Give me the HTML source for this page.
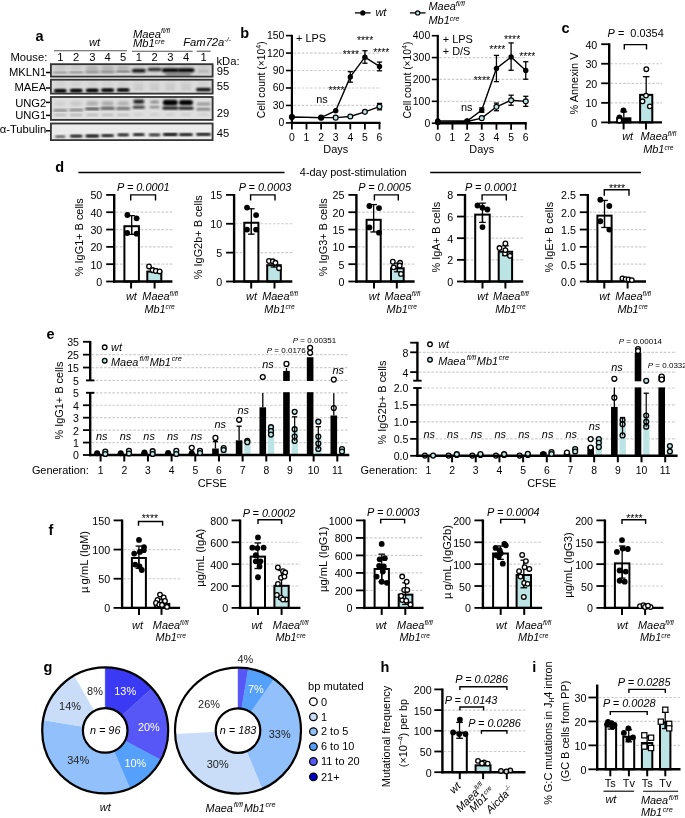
<!DOCTYPE html>
<html><head><meta charset="utf-8"><style>
html,body{margin:0;padding:0;background:#fff;width:685px;height:818px;overflow:hidden}
svg{display:block;will-change:transform}
text{font-family:"Liberation Sans",sans-serif}
</style></head><body>
<svg width="685" height="818" viewBox="0 0 685 818">
<rect width="685" height="818" fill="#fff"/>
<text x="35.5" y="41" font-size="14.5" text-anchor="start" fill="#000" font-weight="bold">a</text>
<text x="94.5" y="46.4" font-size="11.23" text-anchor="middle" fill="#000" font-style="italic">wt</text>
<line x1="54" y1="50.8" x2="127" y2="50.8" stroke="#555" stroke-width="1.1" stroke-linecap="butt"/>
<text x="133" y="37.6" font-size="11.23" text-anchor="start" fill="#000" font-style="italic">Maea<tspan font-size="7" dy="-4.2">fl/fl</tspan></text>
<text x="133" y="47.2" font-size="11.23" text-anchor="start" fill="#000" font-style="italic">Mb1<tspan font-size="7" dy="-3.6">cre</tspan></text>
<line x1="132" y1="51.2" x2="192.7" y2="51.2" stroke="#555" stroke-width="1.1" stroke-linecap="butt"/>
<text x="183.2" y="46.3" font-size="11.23" text-anchor="start" fill="#000" font-style="italic">Fam72a<tspan font-size="7" dy="-4.2">-/-</tspan></text>
<line x1="196.7" y1="51.2" x2="210.7" y2="51.2" stroke="#555" stroke-width="1.1" stroke-linecap="butt"/>
<text x="10.5" y="60.8" font-size="11.23" text-anchor="start" fill="#000">Mouse:</text>
<text x="60.3" y="60.7" font-size="11.23" text-anchor="middle" fill="#000">1</text>
<text x="76.2" y="60.7" font-size="11.23" text-anchor="middle" fill="#000">2</text>
<text x="92.3" y="60.7" font-size="11.23" text-anchor="middle" fill="#000">3</text>
<text x="107.6" y="60.7" font-size="11.23" text-anchor="middle" fill="#000">4</text>
<text x="123.2" y="60.7" font-size="11.23" text-anchor="middle" fill="#000">5</text>
<text x="138.8" y="60.7" font-size="11.23" text-anchor="middle" fill="#000">1</text>
<text x="154.6" y="60.7" font-size="11.23" text-anchor="middle" fill="#000">2</text>
<text x="170.3" y="60.7" font-size="11.23" text-anchor="middle" fill="#000">3</text>
<text x="186" y="60.7" font-size="11.23" text-anchor="middle" fill="#000">4</text>
<text x="203.5" y="60.7" font-size="11.23" text-anchor="middle" fill="#000">1</text>
<text x="216.5" y="64.7" font-size="11.23" text-anchor="start" fill="#000">kDa:</text>
<text x="216.8" y="75.3" font-size="11.23" text-anchor="start" fill="#000">95</text>
<text x="216.8" y="90.2" font-size="11.23" text-anchor="start" fill="#000">55</text>
<text x="216.8" y="117.2" font-size="11.23" text-anchor="start" fill="#000">29</text>
<text x="216.8" y="137.2" font-size="11.23" text-anchor="start" fill="#000">45</text>
<text x="46.3" y="75.8" font-size="11.23" text-anchor="end" fill="#000">MKLN1</text>
<line x1="46" y1="72.5" x2="50.5" y2="72.5" stroke="#000" stroke-width="1.5" stroke-linecap="butt"/>
<text x="46.3" y="91.4" font-size="11.23" text-anchor="end" fill="#000">MAEA</text>
<line x1="46" y1="88" x2="50.5" y2="88" stroke="#000" stroke-width="1.5" stroke-linecap="butt"/>
<text x="46.3" y="106.8" font-size="11.23" text-anchor="end" fill="#000">UNG2</text>
<line x1="46" y1="102.4" x2="50.5" y2="102.4" stroke="#000" stroke-width="1.5" stroke-linecap="butt"/>
<text x="46.3" y="118.5" font-size="11.23" text-anchor="end" fill="#000">UNG1</text>
<line x1="46" y1="115.4" x2="50.5" y2="115.4" stroke="#000" stroke-width="1.5" stroke-linecap="butt"/>
<text x="46.3" y="132.6" font-size="11.23" text-anchor="end" fill="#000">α-Tubulin</text>
<line x1="46" y1="130.8" x2="50.5" y2="130.8" stroke="#000" stroke-width="1.5" stroke-linecap="butt"/>
<defs><filter id="bl" x="-50%" y="-50%" width="200%" height="200%"><feGaussianBlur stdDeviation="0.9"/></filter><filter id="bl2" x="-50%" y="-50%" width="200%" height="200%"><feGaussianBlur stdDeviation="1.6"/></filter><clipPath id="cb1"><rect x="50.5" y="63.8" width="162.5" height="13.2"/></clipPath><clipPath id="cb2"><rect x="50.5" y="79.3" width="162.5" height="14.7"/></clipPath><clipPath id="cb3"><rect x="50.5" y="96.6" width="162.5" height="23.7"/></clipPath><clipPath id="cb4"><rect x="50.5" y="123.1" width="162.5" height="17.4"/></clipPath></defs>
<rect x="50" y="63.3" width="163.5" height="14.2" fill="#d6d6d6"/>
<rect x="50" y="78.8" width="163.5" height="15.7" fill="#dcdcdc"/>
<rect x="50" y="96.1" width="163.5" height="24.7" fill="#dfdfdf"/>
<rect x="50" y="122.6" width="163.5" height="18.4" fill="#ebebeb"/>
<g clip-path="url(#cb1)"><rect x="55.3" y="64" width="10" height="8" rx="3" fill="#c4c4c4" opacity="0.7" filter="url(#bl2)"/></g>
<g clip-path="url(#cb2)"><rect x="55.3" y="80.5" width="10" height="7" rx="3" fill="#cbcbcb" opacity="0.6" filter="url(#bl2)"/></g>
<g clip-path="url(#cb1)"><rect x="71.2" y="64" width="10" height="8" rx="3" fill="#c4c4c4" opacity="0.7" filter="url(#bl2)"/></g>
<g clip-path="url(#cb2)"><rect x="71.2" y="80.5" width="10" height="7" rx="3" fill="#cbcbcb" opacity="0.6" filter="url(#bl2)"/></g>
<g clip-path="url(#cb1)"><rect x="87.3" y="64" width="10" height="8" rx="3" fill="#c4c4c4" opacity="0.7" filter="url(#bl2)"/></g>
<g clip-path="url(#cb2)"><rect x="87.3" y="80.5" width="10" height="7" rx="3" fill="#cbcbcb" opacity="0.6" filter="url(#bl2)"/></g>
<g clip-path="url(#cb1)"><rect x="102.6" y="64" width="10" height="8" rx="3" fill="#c4c4c4" opacity="0.7" filter="url(#bl2)"/></g>
<g clip-path="url(#cb2)"><rect x="102.6" y="80.5" width="10" height="7" rx="3" fill="#cbcbcb" opacity="0.6" filter="url(#bl2)"/></g>
<g clip-path="url(#cb1)"><rect x="118.2" y="64" width="10" height="8" rx="3" fill="#c4c4c4" opacity="0.7" filter="url(#bl2)"/></g>
<g clip-path="url(#cb2)"><rect x="118.2" y="80.5" width="10" height="7" rx="3" fill="#cbcbcb" opacity="0.6" filter="url(#bl2)"/></g>
<g clip-path="url(#cb1)"><rect x="133.8" y="64" width="10" height="8" rx="3" fill="#c4c4c4" opacity="0.7" filter="url(#bl2)"/></g>
<g clip-path="url(#cb2)"><rect x="133.8" y="80.5" width="10" height="7" rx="3" fill="#cbcbcb" opacity="0.6" filter="url(#bl2)"/></g>
<g clip-path="url(#cb1)"><rect x="149.6" y="64" width="10" height="8" rx="3" fill="#c4c4c4" opacity="0.7" filter="url(#bl2)"/></g>
<g clip-path="url(#cb2)"><rect x="149.6" y="80.5" width="10" height="7" rx="3" fill="#cbcbcb" opacity="0.6" filter="url(#bl2)"/></g>
<g clip-path="url(#cb1)"><rect x="165.3" y="64" width="10" height="8" rx="3" fill="#c4c4c4" opacity="0.7" filter="url(#bl2)"/></g>
<g clip-path="url(#cb2)"><rect x="165.3" y="80.5" width="10" height="7" rx="3" fill="#cbcbcb" opacity="0.6" filter="url(#bl2)"/></g>
<g clip-path="url(#cb1)"><rect x="181" y="64" width="10" height="8" rx="3" fill="#c4c4c4" opacity="0.7" filter="url(#bl2)"/></g>
<g clip-path="url(#cb2)"><rect x="181" y="80.5" width="10" height="7" rx="3" fill="#cbcbcb" opacity="0.6" filter="url(#bl2)"/></g>
<g clip-path="url(#cb1)"><rect x="198.5" y="64" width="10" height="8" rx="3" fill="#c4c4c4" opacity="0.7" filter="url(#bl2)"/></g>
<g clip-path="url(#cb2)"><rect x="198.5" y="80.5" width="10" height="7" rx="3" fill="#cbcbcb" opacity="0.6" filter="url(#bl2)"/></g>
<g clip-path="url(#cb1)"><rect x="53.3" y="72.05" width="14" height="1.3" rx="0.65" fill="#333" opacity="0.6" filter="url(#bl)"/></g>
<g clip-path="url(#cb1)"><rect x="69.2" y="71.8" width="14" height="1.3" rx="0.65" fill="#333" opacity="0.68" filter="url(#bl)"/></g>
<g clip-path="url(#cb1)"><rect x="85.3" y="71.55" width="14" height="1.3" rx="0.65" fill="#333" opacity="0.76" filter="url(#bl)"/></g>
<g clip-path="url(#cb1)"><rect x="85.8" y="66.75" width="13" height="3.5" rx="1.75" fill="#888" opacity="0.45" filter="url(#bl2)"/></g>
<g clip-path="url(#cb1)"><rect x="100.6" y="71.3" width="14" height="1.3" rx="0.65" fill="#333" opacity="0.84" filter="url(#bl)"/></g>
<g clip-path="url(#cb1)"><rect x="101.1" y="66.75" width="13" height="3.5" rx="1.75" fill="#888" opacity="0.45" filter="url(#bl2)"/></g>
<g clip-path="url(#cb1)"><rect x="116.2" y="71.05" width="14" height="1.3" rx="0.65" fill="#333" opacity="0.92" filter="url(#bl)"/></g>
<g clip-path="url(#cb1)"><rect x="116.7" y="66.75" width="13" height="3.5" rx="1.75" fill="#888" opacity="0.45" filter="url(#bl2)"/></g>
<g clip-path="url(#cb1)"><rect x="131.8" y="69" width="14" height="3.4" rx="1.7" fill="#111" opacity="1" filter="url(#bl)"/></g>
<g clip-path="url(#cb1)"><rect x="147.6" y="68.1" width="14" height="3" rx="1.5" fill="#222" opacity="1" filter="url(#bl)"/></g>
<g clip-path="url(#cb1)"><rect x="161.8" y="68.3" width="17" height="4" rx="2" fill="#000" opacity="1" filter="url(#bl)"/></g>
<g clip-path="url(#cb1)"><rect x="177.5" y="68.3" width="17" height="4" rx="2" fill="#000" opacity="1" filter="url(#bl)"/></g>
<g clip-path="url(#cb1)"><rect x="165.15" y="73.35" width="26" height="2.5" rx="1.25" fill="#444" opacity="0.8" filter="url(#bl2)"/></g>
<g clip-path="url(#cb1)"><rect x="197.5" y="70.25" width="12" height="2.5" rx="1.25" fill="#999" opacity="0.5" filter="url(#bl)"/></g>
<g clip-path="url(#cb2)"><rect x="53.8" y="89.2" width="13" height="3.2" rx="1.6" fill="#000" opacity="1" filter="url(#bl)"/></g>
<g clip-path="url(#cb2)"><rect x="55.3" y="89.8" width="10" height="2" rx="1" fill="#000" opacity="0.8" filter="url(#bl)"/></g>
<g clip-path="url(#cb2)"><rect x="69.7" y="89" width="13" height="3.2" rx="1.6" fill="#000" opacity="1" filter="url(#bl)"/></g>
<g clip-path="url(#cb2)"><rect x="71.2" y="89.6" width="10" height="2" rx="1" fill="#000" opacity="0.8" filter="url(#bl)"/></g>
<g clip-path="url(#cb2)"><rect x="85.8" y="88.8" width="13" height="3.2" rx="1.6" fill="#000" opacity="1" filter="url(#bl)"/></g>
<g clip-path="url(#cb2)"><rect x="87.3" y="89.4" width="10" height="2" rx="1" fill="#000" opacity="0.8" filter="url(#bl)"/></g>
<g clip-path="url(#cb2)"><rect x="101.1" y="88.6" width="13" height="3.2" rx="1.6" fill="#000" opacity="1" filter="url(#bl)"/></g>
<g clip-path="url(#cb2)"><rect x="102.6" y="89.2" width="10" height="2" rx="1" fill="#000" opacity="0.8" filter="url(#bl)"/></g>
<g clip-path="url(#cb2)"><rect x="116.7" y="88.4" width="13" height="3.2" rx="1.6" fill="#000" opacity="1" filter="url(#bl)"/></g>
<g clip-path="url(#cb2)"><rect x="118.2" y="89" width="10" height="2" rx="1" fill="#000" opacity="0.8" filter="url(#bl)"/></g>
<g clip-path="url(#cb2)"><rect x="133.8" y="88.2" width="10" height="1.6" rx="0.8" fill="#999" opacity="0.5" filter="url(#bl)"/></g>
<g clip-path="url(#cb2)"><rect x="133.8" y="85.3" width="10" height="1.4" rx="0.7" fill="#aaa" opacity="0.4" filter="url(#bl)"/></g>
<g clip-path="url(#cb2)"><rect x="149.6" y="88.2" width="10" height="1.6" rx="0.8" fill="#999" opacity="0.5" filter="url(#bl)"/></g>
<g clip-path="url(#cb2)"><rect x="149.6" y="85.3" width="10" height="1.4" rx="0.7" fill="#aaa" opacity="0.4" filter="url(#bl)"/></g>
<g clip-path="url(#cb2)"><rect x="165.3" y="88.2" width="10" height="1.6" rx="0.8" fill="#999" opacity="0.5" filter="url(#bl)"/></g>
<g clip-path="url(#cb2)"><rect x="165.3" y="85.3" width="10" height="1.4" rx="0.7" fill="#aaa" opacity="0.4" filter="url(#bl)"/></g>
<g clip-path="url(#cb2)"><rect x="181" y="88.2" width="10" height="1.6" rx="0.8" fill="#999" opacity="0.5" filter="url(#bl)"/></g>
<g clip-path="url(#cb2)"><rect x="181" y="85.3" width="10" height="1.4" rx="0.7" fill="#aaa" opacity="0.4" filter="url(#bl)"/></g>
<g clip-path="url(#cb2)"><rect x="196" y="87.9" width="15" height="3.4" rx="1.7" fill="#000" opacity="1" filter="url(#bl)"/></g>
<g clip-path="url(#cb3)"><rect x="54.3" y="101.6" width="12" height="4" rx="2" fill="#777" opacity="0.15" filter="url(#bl2)"/></g>
<g clip-path="url(#cb3)"><rect x="53.3" y="109.45" width="14" height="1.7" rx="0.85" fill="#111" opacity="0.6" filter="url(#bl)"/></g>
<g clip-path="url(#cb3)"><rect x="54.3" y="114.2" width="12" height="1.6" rx="0.8" fill="#666" opacity="0.45" filter="url(#bl)"/></g>
<g clip-path="url(#cb3)"><rect x="70.2" y="101.6" width="12" height="4" rx="2" fill="#777" opacity="0.25" filter="url(#bl2)"/></g>
<g clip-path="url(#cb3)"><rect x="69.2" y="109.15" width="14" height="1.7" rx="0.85" fill="#111" opacity="0.7" filter="url(#bl)"/></g>
<g clip-path="url(#cb3)"><rect x="70.2" y="114.2" width="12" height="1.6" rx="0.8" fill="#666" opacity="0.5" filter="url(#bl)"/></g>
<g clip-path="url(#cb3)"><rect x="86.3" y="101.6" width="12" height="4" rx="2" fill="#777" opacity="0.55" filter="url(#bl2)"/></g>
<g clip-path="url(#cb3)"><rect x="85.3" y="107.95" width="14" height="1.7" rx="0.85" fill="#111" opacity="1" filter="url(#bl)"/></g>
<g clip-path="url(#cb3)"><rect x="86.3" y="114.2" width="12" height="1.6" rx="0.8" fill="#666" opacity="0.45" filter="url(#bl)"/></g>
<g clip-path="url(#cb3)"><rect x="101.6" y="101.6" width="12" height="4" rx="2" fill="#777" opacity="0.6" filter="url(#bl2)"/></g>
<g clip-path="url(#cb3)"><rect x="100.6" y="107.55" width="14" height="1.7" rx="0.85" fill="#111" opacity="1" filter="url(#bl)"/></g>
<g clip-path="url(#cb3)"><rect x="101.6" y="114.2" width="12" height="1.6" rx="0.8" fill="#666" opacity="0.45" filter="url(#bl)"/></g>
<g clip-path="url(#cb3)"><rect x="117.2" y="101.6" width="12" height="4" rx="2" fill="#777" opacity="0.5" filter="url(#bl2)"/></g>
<g clip-path="url(#cb3)"><rect x="116.2" y="107.75" width="14" height="1.7" rx="0.85" fill="#111" opacity="0.85" filter="url(#bl)"/></g>
<g clip-path="url(#cb3)"><rect x="117.2" y="114.2" width="12" height="1.6" rx="0.8" fill="#666" opacity="0.4" filter="url(#bl)"/></g>
<g clip-path="url(#cb3)"><rect x="133.3" y="99.4" width="11" height="4.4" rx="2.2" fill="#111" opacity="0.9" filter="url(#bl)"/></g>
<g clip-path="url(#cb3)"><rect x="132.8" y="106.1" width="12" height="2.4" rx="1.2" fill="#111" opacity="0.9" filter="url(#bl)"/></g>
<g clip-path="url(#cb3)"><rect x="150.1" y="100.4" width="9" height="3.2" rx="1.6" fill="#555" opacity="0.6" filter="url(#bl)"/></g>
<g clip-path="url(#cb3)"><rect x="149.6" y="106.2" width="10" height="2" rx="1" fill="#333" opacity="0.6" filter="url(#bl)"/></g>
<g clip-path="url(#cb3)"><rect x="162.8" y="99.7" width="15" height="5.8" rx="2.9" fill="#000" opacity="1" filter="url(#bl)"/></g>
<g clip-path="url(#cb3)"><rect x="162.3" y="106.7" width="16" height="2.8" rx="1.4" fill="#000" opacity="1" filter="url(#bl)"/></g>
<g clip-path="url(#cb3)"><rect x="179" y="99.9" width="14" height="5.4" rx="2.7" fill="#000" opacity="1" filter="url(#bl)"/></g>
<g clip-path="url(#cb3)"><rect x="178.5" y="106.9" width="15" height="2.6" rx="1.3" fill="#000" opacity="1" filter="url(#bl)"/></g>
<g clip-path="url(#cb3)"><rect x="196.5" y="102.5" width="14" height="3" rx="1.5" fill="#777" opacity="0.7" filter="url(#bl)"/></g>
<g clip-path="url(#cb3)"><rect x="196.5" y="108.2" width="14" height="2" rx="1" fill="#444" opacity="0.8" filter="url(#bl)"/></g>
<g clip-path="url(#cb3)"><rect x="133.8" y="113.5" width="10" height="2" rx="1" fill="#aaa" opacity="0.4" filter="url(#bl)"/></g>
<g clip-path="url(#cb3)"><rect x="149.6" y="113.5" width="10" height="2" rx="1" fill="#aaa" opacity="0.4" filter="url(#bl)"/></g>
<g clip-path="url(#cb3)"><rect x="165.3" y="113.5" width="10" height="2" rx="1" fill="#aaa" opacity="0.4" filter="url(#bl)"/></g>
<g clip-path="url(#cb3)"><rect x="181" y="113.5" width="10" height="2" rx="1" fill="#aaa" opacity="0.4" filter="url(#bl)"/></g>
<g clip-path="url(#cb3)"><rect x="198.5" y="113.5" width="10" height="2" rx="1" fill="#aaa" opacity="0.4" filter="url(#bl)"/></g>
<g clip-path="url(#cb4)"><rect x="54.8" y="135.45" width="11" height="2.3" rx="1.15" fill="#000" opacity="0.55" filter="url(#bl)"/></g>
<g clip-path="url(#cb4)"><rect x="56.3" y="135.95" width="8" height="1.3" rx="0.65" fill="#000" opacity="0.44" filter="url(#bl)"/></g>
<g clip-path="url(#cb4)"><rect x="69.7" y="135.05" width="13" height="2.3" rx="1.15" fill="#000" opacity="0.9" filter="url(#bl)"/></g>
<g clip-path="url(#cb4)"><rect x="71.2" y="135.55" width="10" height="1.3" rx="0.65" fill="#000" opacity="0.72" filter="url(#bl)"/></g>
<g clip-path="url(#cb4)"><rect x="85.3" y="134.85" width="14" height="2.3" rx="1.15" fill="#000" opacity="0.95" filter="url(#bl)"/></g>
<g clip-path="url(#cb4)"><rect x="86.8" y="135.35" width="11" height="1.3" rx="0.65" fill="#000" opacity="0.76" filter="url(#bl)"/></g>
<g clip-path="url(#cb4)"><rect x="101.1" y="134.45" width="13" height="2.3" rx="1.15" fill="#000" opacity="0.95" filter="url(#bl)"/></g>
<g clip-path="url(#cb4)"><rect x="102.6" y="134.95" width="10" height="1.3" rx="0.65" fill="#000" opacity="0.76" filter="url(#bl)"/></g>
<g clip-path="url(#cb4)"><rect x="117.2" y="133.65" width="12" height="2.3" rx="1.15" fill="#000" opacity="0.9" filter="url(#bl)"/></g>
<g clip-path="url(#cb4)"><rect x="118.7" y="134.15" width="9" height="1.3" rx="0.65" fill="#000" opacity="0.72" filter="url(#bl)"/></g>
<g clip-path="url(#cb4)"><rect x="132.8" y="133.55" width="12" height="2.3" rx="1.15" fill="#000" opacity="0.95" filter="url(#bl)"/></g>
<g clip-path="url(#cb4)"><rect x="134.3" y="134.05" width="9" height="1.3" rx="0.65" fill="#000" opacity="0.76" filter="url(#bl)"/></g>
<g clip-path="url(#cb4)"><rect x="148.6" y="133.65" width="12" height="2.3" rx="1.15" fill="#000" opacity="0.8" filter="url(#bl)"/></g>
<g clip-path="url(#cb4)"><rect x="150.1" y="134.15" width="9" height="1.3" rx="0.65" fill="#000" opacity="0.64" filter="url(#bl)"/></g>
<g clip-path="url(#cb4)"><rect x="162.8" y="133.35" width="15" height="2.3" rx="1.15" fill="#000" opacity="1" filter="url(#bl)"/></g>
<g clip-path="url(#cb4)"><rect x="164.3" y="133.85" width="12" height="1.3" rx="0.65" fill="#000" opacity="0.8" filter="url(#bl)"/></g>
<g clip-path="url(#cb4)"><rect x="179" y="133.55" width="14" height="2.3" rx="1.15" fill="#000" opacity="1" filter="url(#bl)"/></g>
<g clip-path="url(#cb4)"><rect x="180.5" y="134.05" width="11" height="1.3" rx="0.65" fill="#000" opacity="0.8" filter="url(#bl)"/></g>
<g clip-path="url(#cb4)"><rect x="196" y="133.25" width="15" height="2.3" rx="1.15" fill="#000" opacity="1" filter="url(#bl)"/></g>
<g clip-path="url(#cb4)"><rect x="197.5" y="133.75" width="12" height="1.3" rx="0.65" fill="#000" opacity="0.8" filter="url(#bl)"/></g>
<rect x="50.9" y="64.2" width="161.7" height="12.4" fill="none" stroke="#353535" stroke-width="1.8"/>
<rect x="50.9" y="79.7" width="161.7" height="13.9" fill="none" stroke="#353535" stroke-width="1.8"/>
<rect x="50.9" y="97" width="161.7" height="22.9" fill="none" stroke="#353535" stroke-width="1.8"/>
<rect x="50.9" y="123.5" width="161.7" height="16.6" fill="none" stroke="#353535" stroke-width="1.8"/>
<text x="240.2" y="37.5" font-size="14.5" text-anchor="start" fill="#000" font-weight="bold">b</text>
<line x1="354.9" y1="12.9" x2="370.6" y2="12.9" stroke="#000" stroke-width="1.3" stroke-linecap="butt"/>
<circle cx="362.8" cy="12.9" r="2.6" fill="#000"/>
<text x="375.4" y="16.2" font-size="10.92" text-anchor="start" fill="#000" font-style="italic">wt</text>
<line x1="409.9" y1="12.9" x2="425.6" y2="12.9" stroke="#000" stroke-width="1.3" stroke-linecap="butt"/>
<circle cx="417.7" cy="12.9" r="2.1" fill="#bde4e4" stroke="#000" stroke-width="1.2"/>
<text x="428.5" y="9.6" font-size="10.92" text-anchor="start" fill="#000" font-style="italic">Maea<tspan font-size="7" dy="-4">fl/fl</tspan></text>
<text x="428.5" y="24.4" font-size="10.92" text-anchor="start" fill="#000" font-style="italic">Mb1<tspan font-size="7" dy="-3.6">cre</tspan></text>
<line x1="293.4" y1="105.44" x2="380.5" y2="105.44" stroke="#cdcdcd" stroke-width="1.2" stroke-linecap="butt" stroke-dasharray="2.6 1.55"/>
<line x1="293.4" y1="87.98" x2="380.5" y2="87.98" stroke="#cdcdcd" stroke-width="1.2" stroke-linecap="butt" stroke-dasharray="2.6 1.55"/>
<line x1="293.4" y1="70.52" x2="380.5" y2="70.52" stroke="#cdcdcd" stroke-width="1.2" stroke-linecap="butt" stroke-dasharray="2.6 1.55"/>
<line x1="293.4" y1="53.06" x2="380.5" y2="53.06" stroke="#cdcdcd" stroke-width="1.2" stroke-linecap="butt" stroke-dasharray="2.6 1.55"/>
<polyline points="291.9,117.08 321.1,117.66 335.7,117.66 350.3,116.5 364.9,111.84 379.5,106.6" fill="none" stroke="#000" stroke-width="1.4"/>
<polyline points="291.9,117.08 321.1,117.66 335.7,110.68 350.3,76.92 364.9,57.13 379.5,66.45" fill="none" stroke="#000" stroke-width="1.4"/>
<line x1="350.3" y1="71.68" x2="350.3" y2="82.16" stroke="#000" stroke-width="1.3" stroke-linecap="butt"/>
<line x1="347.7" y1="71.68" x2="352.9" y2="71.68" stroke="#000" stroke-width="1.3" stroke-linecap="butt"/>
<line x1="347.7" y1="82.16" x2="352.9" y2="82.16" stroke="#000" stroke-width="1.3" stroke-linecap="butt"/>
<line x1="364.9" y1="50.73" x2="364.9" y2="63.24" stroke="#000" stroke-width="1.3" stroke-linecap="butt"/>
<line x1="362.3" y1="50.73" x2="367.5" y2="50.73" stroke="#000" stroke-width="1.3" stroke-linecap="butt"/>
<line x1="362.3" y1="63.24" x2="367.5" y2="63.24" stroke="#000" stroke-width="1.3" stroke-linecap="butt"/>
<line x1="379.5" y1="62.08" x2="379.5" y2="70.81" stroke="#000" stroke-width="1.3" stroke-linecap="butt"/>
<line x1="376.9" y1="62.08" x2="382.1" y2="62.08" stroke="#000" stroke-width="1.3" stroke-linecap="butt"/>
<line x1="376.9" y1="70.81" x2="382.1" y2="70.81" stroke="#000" stroke-width="1.3" stroke-linecap="butt"/>
<line x1="379.5" y1="103.4" x2="379.5" y2="109.81" stroke="#000" stroke-width="1.3" stroke-linecap="butt"/>
<line x1="376.9" y1="103.4" x2="382.1" y2="103.4" stroke="#000" stroke-width="1.3" stroke-linecap="butt"/>
<line x1="376.9" y1="109.81" x2="382.1" y2="109.81" stroke="#000" stroke-width="1.3" stroke-linecap="butt"/>
<circle cx="291.9" cy="117.08" r="2.45" fill="#bde4e4" stroke="#000" stroke-width="1.2"/>
<circle cx="321.1" cy="117.66" r="2.45" fill="#bde4e4" stroke="#000" stroke-width="1.2"/>
<circle cx="335.7" cy="117.66" r="2.45" fill="#bde4e4" stroke="#000" stroke-width="1.2"/>
<circle cx="350.3" cy="116.5" r="2.45" fill="#bde4e4" stroke="#000" stroke-width="1.2"/>
<circle cx="364.9" cy="111.84" r="2.45" fill="#bde4e4" stroke="#000" stroke-width="1.2"/>
<circle cx="379.5" cy="106.6" r="2.45" fill="#bde4e4" stroke="#000" stroke-width="1.2"/>
<circle cx="291.9" cy="117.08" r="2.7" fill="#000"/>
<circle cx="321.1" cy="117.66" r="2.7" fill="#000"/>
<circle cx="335.7" cy="110.68" r="2.7" fill="#000"/>
<circle cx="350.3" cy="76.92" r="2.7" fill="#000"/>
<circle cx="364.9" cy="57.13" r="2.7" fill="#000"/>
<circle cx="379.5" cy="66.45" r="2.7" fill="#000"/>
<line x1="291.9" y1="34.8" x2="291.9" y2="124" stroke="#000" stroke-width="2.2" stroke-linecap="butt"/>
<line x1="285.9" y1="122.9" x2="291.9" y2="122.9" stroke="#000" stroke-width="1.6" stroke-linecap="butt"/>
<text x="284.3" y="126.4" font-size="10.4" text-anchor="end" fill="#000">0</text>
<line x1="285.9" y1="105.44" x2="291.9" y2="105.44" stroke="#000" stroke-width="1.6" stroke-linecap="butt"/>
<text x="284.3" y="108.94" font-size="10.4" text-anchor="end" fill="#000">30</text>
<line x1="285.9" y1="87.98" x2="291.9" y2="87.98" stroke="#000" stroke-width="1.6" stroke-linecap="butt"/>
<text x="284.3" y="91.48" font-size="10.4" text-anchor="end" fill="#000">60</text>
<line x1="285.9" y1="70.52" x2="291.9" y2="70.52" stroke="#000" stroke-width="1.6" stroke-linecap="butt"/>
<text x="284.3" y="74.02" font-size="10.4" text-anchor="end" fill="#000">90</text>
<line x1="285.9" y1="53.06" x2="291.9" y2="53.06" stroke="#000" stroke-width="1.6" stroke-linecap="butt"/>
<text x="284.3" y="56.56" font-size="10.4" text-anchor="end" fill="#000">120</text>
<line x1="285.9" y1="35.6" x2="291.9" y2="35.6" stroke="#000" stroke-width="1.6" stroke-linecap="butt"/>
<text x="284.3" y="39.1" font-size="10.4" text-anchor="end" fill="#000">150</text>
<line x1="290.8" y1="122.9" x2="380.5" y2="122.9" stroke="#000" stroke-width="2.4" stroke-linecap="butt"/>
<line x1="291.9" y1="122.9" x2="291.9" y2="129.4" stroke="#000" stroke-width="1.8" stroke-linecap="butt"/>
<text x="291.9" y="141" font-size="10.4" text-anchor="middle" fill="#000">0</text>
<line x1="306.5" y1="122.9" x2="306.5" y2="129.4" stroke="#000" stroke-width="1.8" stroke-linecap="butt"/>
<text x="306.5" y="141" font-size="10.4" text-anchor="middle" fill="#000">1</text>
<line x1="321.1" y1="122.9" x2="321.1" y2="129.4" stroke="#000" stroke-width="1.8" stroke-linecap="butt"/>
<text x="321.1" y="141" font-size="10.4" text-anchor="middle" fill="#000">2</text>
<line x1="335.7" y1="122.9" x2="335.7" y2="129.4" stroke="#000" stroke-width="1.8" stroke-linecap="butt"/>
<text x="335.7" y="141" font-size="10.4" text-anchor="middle" fill="#000">3</text>
<line x1="350.3" y1="122.9" x2="350.3" y2="129.4" stroke="#000" stroke-width="1.8" stroke-linecap="butt"/>
<text x="350.3" y="141" font-size="10.4" text-anchor="middle" fill="#000">4</text>
<line x1="364.9" y1="122.9" x2="364.9" y2="129.4" stroke="#000" stroke-width="1.8" stroke-linecap="butt"/>
<text x="364.9" y="141" font-size="10.4" text-anchor="middle" fill="#000">5</text>
<line x1="379.5" y1="122.9" x2="379.5" y2="129.4" stroke="#000" stroke-width="1.8" stroke-linecap="butt"/>
<text x="379.5" y="141" font-size="10.4" text-anchor="middle" fill="#000">6</text>
<text x="335.7" y="152.6" font-size="10.92" text-anchor="middle" fill="#000">Days</text>
<text x="265.3" y="79.85" font-size="10.3" text-anchor="middle" fill="#000" transform="rotate(-90 265.3 79.85)">Cell count (×10<tspan font-size="7" dy="-4">4</tspan><tspan dy="4">)</tspan></text>
<text x="296" y="42.4" font-size="10.92" text-anchor="start" fill="#000">+ LPS</text>
<text x="316.2" y="103.4" font-size="10.92" text-anchor="start" fill="#000">ns</text>
<text x="328.4" y="93.7" font-size="10.4" text-anchor="start" fill="#000">****</text>
<text x="342.8" y="58.4" font-size="10.4" text-anchor="start" fill="#000">****</text>
<text x="357" y="43.9" font-size="10.4" text-anchor="start" fill="#000">****</text>
<text x="373.2" y="55.8" font-size="10.4" text-anchor="start" fill="#000">****</text>
<line x1="439.3" y1="101.33" x2="526.76" y2="101.33" stroke="#cdcdcd" stroke-width="1.2" stroke-linecap="butt" stroke-dasharray="2.6 1.55"/>
<line x1="439.3" y1="79.45" x2="526.76" y2="79.45" stroke="#cdcdcd" stroke-width="1.2" stroke-linecap="butt" stroke-dasharray="2.6 1.55"/>
<line x1="439.3" y1="57.58" x2="526.76" y2="57.58" stroke="#cdcdcd" stroke-width="1.2" stroke-linecap="butt" stroke-dasharray="2.6 1.55"/>
<polyline points="437.8,122.33 467.12,121.45 481.78,118.17 496.44,106.79 511.1,100.23 525.76,101.33" fill="none" stroke="#000" stroke-width="1.4"/>
<polyline points="437.8,121.01 467.12,121.01 481.78,110.08 496.44,68.51 511.1,56.92 525.76,70.48" fill="none" stroke="#000" stroke-width="1.4"/>
<line x1="481.78" y1="107.89" x2="481.78" y2="112.26" stroke="#000" stroke-width="1.3" stroke-linecap="butt"/>
<line x1="479.18" y1="107.89" x2="484.38" y2="107.89" stroke="#000" stroke-width="1.3" stroke-linecap="butt"/>
<line x1="479.18" y1="112.26" x2="484.38" y2="112.26" stroke="#000" stroke-width="1.3" stroke-linecap="butt"/>
<line x1="496.44" y1="55.39" x2="496.44" y2="81.64" stroke="#000" stroke-width="1.3" stroke-linecap="butt"/>
<line x1="493.84" y1="55.39" x2="499.04" y2="55.39" stroke="#000" stroke-width="1.3" stroke-linecap="butt"/>
<line x1="493.84" y1="81.64" x2="499.04" y2="81.64" stroke="#000" stroke-width="1.3" stroke-linecap="butt"/>
<line x1="511.1" y1="42.92" x2="511.1" y2="70.26" stroke="#000" stroke-width="1.3" stroke-linecap="butt"/>
<line x1="508.5" y1="42.92" x2="513.7" y2="42.92" stroke="#000" stroke-width="1.3" stroke-linecap="butt"/>
<line x1="508.5" y1="70.26" x2="513.7" y2="70.26" stroke="#000" stroke-width="1.3" stroke-linecap="butt"/>
<line x1="525.76" y1="61.73" x2="525.76" y2="79.23" stroke="#000" stroke-width="1.3" stroke-linecap="butt"/>
<line x1="523.16" y1="61.73" x2="528.36" y2="61.73" stroke="#000" stroke-width="1.3" stroke-linecap="butt"/>
<line x1="523.16" y1="79.23" x2="528.36" y2="79.23" stroke="#000" stroke-width="1.3" stroke-linecap="butt"/>
<line x1="496.44" y1="103.08" x2="496.44" y2="110.73" stroke="#000" stroke-width="1.3" stroke-linecap="butt"/>
<line x1="493.84" y1="103.08" x2="499.04" y2="103.08" stroke="#000" stroke-width="1.3" stroke-linecap="butt"/>
<line x1="493.84" y1="110.73" x2="499.04" y2="110.73" stroke="#000" stroke-width="1.3" stroke-linecap="butt"/>
<line x1="511.1" y1="95.2" x2="511.1" y2="105.26" stroke="#000" stroke-width="1.3" stroke-linecap="butt"/>
<line x1="508.5" y1="95.2" x2="513.7" y2="95.2" stroke="#000" stroke-width="1.3" stroke-linecap="butt"/>
<line x1="508.5" y1="105.26" x2="513.7" y2="105.26" stroke="#000" stroke-width="1.3" stroke-linecap="butt"/>
<line x1="525.76" y1="96.29" x2="525.76" y2="106.36" stroke="#000" stroke-width="1.3" stroke-linecap="butt"/>
<line x1="523.16" y1="96.29" x2="528.36" y2="96.29" stroke="#000" stroke-width="1.3" stroke-linecap="butt"/>
<line x1="523.16" y1="106.36" x2="528.36" y2="106.36" stroke="#000" stroke-width="1.3" stroke-linecap="butt"/>
<circle cx="437.8" cy="122.33" r="2.45" fill="#bde4e4" stroke="#000" stroke-width="1.2"/>
<circle cx="467.12" cy="121.45" r="2.45" fill="#bde4e4" stroke="#000" stroke-width="1.2"/>
<circle cx="481.78" cy="118.17" r="2.45" fill="#bde4e4" stroke="#000" stroke-width="1.2"/>
<circle cx="496.44" cy="106.79" r="2.45" fill="#bde4e4" stroke="#000" stroke-width="1.2"/>
<circle cx="511.1" cy="100.23" r="2.45" fill="#bde4e4" stroke="#000" stroke-width="1.2"/>
<circle cx="525.76" cy="101.33" r="2.45" fill="#bde4e4" stroke="#000" stroke-width="1.2"/>
<circle cx="437.8" cy="121.01" r="2.7" fill="#000"/>
<circle cx="467.12" cy="121.01" r="2.7" fill="#000"/>
<circle cx="481.78" cy="110.08" r="2.7" fill="#000"/>
<circle cx="496.44" cy="68.51" r="2.7" fill="#000"/>
<circle cx="511.1" cy="56.92" r="2.7" fill="#000"/>
<circle cx="525.76" cy="70.48" r="2.7" fill="#000"/>
<line x1="437.8" y1="34.9" x2="437.8" y2="124.3" stroke="#000" stroke-width="2.2" stroke-linecap="butt"/>
<line x1="431.8" y1="123.2" x2="437.8" y2="123.2" stroke="#000" stroke-width="1.6" stroke-linecap="butt"/>
<text x="430.2" y="126.7" font-size="10.4" text-anchor="end" fill="#000">0</text>
<line x1="431.8" y1="101.33" x2="437.8" y2="101.33" stroke="#000" stroke-width="1.6" stroke-linecap="butt"/>
<text x="430.2" y="104.83" font-size="10.4" text-anchor="end" fill="#000">100</text>
<line x1="431.8" y1="79.45" x2="437.8" y2="79.45" stroke="#000" stroke-width="1.6" stroke-linecap="butt"/>
<text x="430.2" y="82.95" font-size="10.4" text-anchor="end" fill="#000">200</text>
<line x1="431.8" y1="57.58" x2="437.8" y2="57.58" stroke="#000" stroke-width="1.6" stroke-linecap="butt"/>
<text x="430.2" y="61.08" font-size="10.4" text-anchor="end" fill="#000">300</text>
<line x1="431.8" y1="35.7" x2="437.8" y2="35.7" stroke="#000" stroke-width="1.6" stroke-linecap="butt"/>
<text x="430.2" y="39.2" font-size="10.4" text-anchor="end" fill="#000">400</text>
<line x1="436.7" y1="123.2" x2="526.76" y2="123.2" stroke="#000" stroke-width="2.4" stroke-linecap="butt"/>
<line x1="437.8" y1="123.2" x2="437.8" y2="129.7" stroke="#000" stroke-width="1.8" stroke-linecap="butt"/>
<text x="437.8" y="141" font-size="10.4" text-anchor="middle" fill="#000">0</text>
<line x1="452.46" y1="123.2" x2="452.46" y2="129.7" stroke="#000" stroke-width="1.8" stroke-linecap="butt"/>
<text x="452.46" y="141" font-size="10.4" text-anchor="middle" fill="#000">1</text>
<line x1="467.12" y1="123.2" x2="467.12" y2="129.7" stroke="#000" stroke-width="1.8" stroke-linecap="butt"/>
<text x="467.12" y="141" font-size="10.4" text-anchor="middle" fill="#000">2</text>
<line x1="481.78" y1="123.2" x2="481.78" y2="129.7" stroke="#000" stroke-width="1.8" stroke-linecap="butt"/>
<text x="481.78" y="141" font-size="10.4" text-anchor="middle" fill="#000">3</text>
<line x1="496.44" y1="123.2" x2="496.44" y2="129.7" stroke="#000" stroke-width="1.8" stroke-linecap="butt"/>
<text x="496.44" y="141" font-size="10.4" text-anchor="middle" fill="#000">4</text>
<line x1="511.1" y1="123.2" x2="511.1" y2="129.7" stroke="#000" stroke-width="1.8" stroke-linecap="butt"/>
<text x="511.1" y="141" font-size="10.4" text-anchor="middle" fill="#000">5</text>
<line x1="525.76" y1="123.2" x2="525.76" y2="129.7" stroke="#000" stroke-width="1.8" stroke-linecap="butt"/>
<text x="525.76" y="141" font-size="10.4" text-anchor="middle" fill="#000">6</text>
<text x="481.78" y="152.6" font-size="10.92" text-anchor="middle" fill="#000">Days</text>
<text x="410.7" y="80.05" font-size="10.3" text-anchor="middle" fill="#000" transform="rotate(-90 410.7 80.05)">Cell count (×10<tspan font-size="7" dy="-4">4</tspan><tspan dy="4">)</tspan></text>
<text x="442.8" y="43.4" font-size="10.92" text-anchor="start" fill="#000">+ LPS</text>
<text x="442.8" y="55.2" font-size="10.92" text-anchor="start" fill="#000">+ D/S</text>
<text x="461" y="110.5" font-size="10.92" text-anchor="start" fill="#000">ns</text>
<text x="473.8" y="84.4" font-size="10.4" text-anchor="start" fill="#000">****</text>
<text x="489.2" y="52.9" font-size="10.4" text-anchor="start" fill="#000">****</text>
<text x="504" y="43" font-size="10.4" text-anchor="start" fill="#000">****</text>
<text x="519.2" y="59.9" font-size="10.4" text-anchor="start" fill="#000">****</text>
<text x="561.6" y="32.8" font-size="14.5" text-anchor="start" fill="#000" font-weight="bold">c</text>
<text x="607.6" y="37" font-size="10.92" text-anchor="start" fill="#000"><tspan font-style="italic">P</tspan> =&#160; 0.0354</text>
<line x1="610.7" y1="102.85" x2="662" y2="102.85" stroke="#cdcdcd" stroke-width="1.2" stroke-linecap="butt" stroke-dasharray="2.6 1.55"/>
<line x1="610.7" y1="83.3" x2="662" y2="83.3" stroke="#cdcdcd" stroke-width="1.2" stroke-linecap="butt" stroke-dasharray="2.6 1.55"/>
<line x1="610.7" y1="63.75" x2="662" y2="63.75" stroke="#cdcdcd" stroke-width="1.2" stroke-linecap="butt" stroke-dasharray="2.6 1.55"/>
<rect x="617.2" y="118.32" width="13.2" height="4.08" fill="#000" stroke="#000" stroke-width="2"/>
<rect x="640.1" y="94.86" width="12.2" height="27.54" fill="#bde4e4" stroke="#000" stroke-width="2"/>
<line x1="609.2" y1="43.3" x2="609.2" y2="123.6" stroke="#000" stroke-width="2.4" stroke-linecap="butt"/>
<line x1="601.2" y1="122.4" x2="609.2" y2="122.4" stroke="#000" stroke-width="1.8" stroke-linecap="butt"/>
<text x="597.3" y="126.9" font-size="10.71" text-anchor="end" fill="#000">0</text>
<line x1="601.2" y1="102.85" x2="609.2" y2="102.85" stroke="#000" stroke-width="1.8" stroke-linecap="butt"/>
<text x="597.3" y="107.35" font-size="10.71" text-anchor="end" fill="#000">10</text>
<line x1="601.2" y1="83.3" x2="609.2" y2="83.3" stroke="#000" stroke-width="1.8" stroke-linecap="butt"/>
<text x="597.3" y="87.8" font-size="10.71" text-anchor="end" fill="#000">20</text>
<line x1="601.2" y1="63.75" x2="609.2" y2="63.75" stroke="#000" stroke-width="1.8" stroke-linecap="butt"/>
<text x="597.3" y="68.25" font-size="10.71" text-anchor="end" fill="#000">30</text>
<line x1="601.2" y1="44.2" x2="609.2" y2="44.2" stroke="#000" stroke-width="1.8" stroke-linecap="butt"/>
<text x="597.3" y="48.7" font-size="10.71" text-anchor="end" fill="#000">40</text>
<line x1="608" y1="122.4" x2="662" y2="122.4" stroke="#000" stroke-width="2.4" stroke-linecap="butt"/>
<line x1="623.6" y1="122.4" x2="623.6" y2="129.4" stroke="#000" stroke-width="2" stroke-linecap="butt"/>
<line x1="646" y1="122.4" x2="646" y2="129.4" stroke="#000" stroke-width="2" stroke-linecap="butt"/>
<line x1="623.8" y1="111.84" x2="623.8" y2="117.32" stroke="#000" stroke-width="1.3" stroke-linecap="butt"/>
<line x1="620.4" y1="111.84" x2="627.2" y2="111.84" stroke="#000" stroke-width="1.3" stroke-linecap="butt"/>
<circle cx="623.5" cy="110.28" r="2.9" fill="#000"/>
<circle cx="619.4" cy="117.32" r="2.9" fill="#000"/>
<circle cx="619.4" cy="120.45" r="2.3" fill="#fff" stroke="#000" stroke-width="1.3"/>
<line x1="646.2" y1="76.65" x2="646.2" y2="93.86" stroke="#000" stroke-width="1.3" stroke-linecap="butt"/>
<line x1="642.9" y1="76.65" x2="649.5" y2="76.65" stroke="#000" stroke-width="1.3" stroke-linecap="butt"/>
<circle cx="646.3" cy="69.22" r="2.3" fill="#fff" stroke="#000" stroke-width="1.3"/>
<circle cx="646" cy="95.62" r="2.3" fill="#fff" stroke="#000" stroke-width="1.3"/>
<circle cx="642.5" cy="101.29" r="2.3" fill="#fff" stroke="#000" stroke-width="1.3"/>
<circle cx="649.8" cy="106.37" r="2.3" fill="#fff" stroke="#000" stroke-width="1.3"/>
<path d="M624.3 49.6V44.6H646.5V49.6" fill="none" stroke="#000" stroke-width="1.4"/>
<text x="577.8" y="83.5" font-size="10.92" text-anchor="middle" fill="#000" transform="rotate(-90 577.8 83.5)">% Annexin V</text>
<text x="627.7" y="139.8" font-size="10.92" text-anchor="middle" fill="#000" font-style="italic">wt</text>
<text x="640.5" y="140.2" font-size="10.92" text-anchor="start" fill="#000" font-style="italic">Maea<tspan font-size="6.5" dy="-4">fl/fl</tspan></text>
<text x="643.2" y="153" font-size="10.92" text-anchor="start" fill="#000" font-style="italic">Mb1<tspan font-size="6.5" dy="-3.5">cre</tspan></text>
<text x="55.3" y="172" font-size="14.5" text-anchor="start" fill="#000" font-weight="bold">d</text>
<line x1="78.4" y1="172.5" x2="284.6" y2="172.5" stroke="#000" stroke-width="1.3" stroke-linecap="butt"/>
<line x1="430.2" y1="172.5" x2="641" y2="172.5" stroke="#000" stroke-width="1.3" stroke-linecap="butt"/>
<text x="353.2" y="175.6" font-size="10.92" text-anchor="middle" fill="#000">4-day post-stimulation</text>
<line x1="115.7" y1="264.18" x2="172.4" y2="264.18" stroke="#cdcdcd" stroke-width="1.2" stroke-linecap="butt" stroke-dasharray="2.6 1.55"/>
<line x1="115.7" y1="246.86" x2="172.4" y2="246.86" stroke="#cdcdcd" stroke-width="1.2" stroke-linecap="butt" stroke-dasharray="2.6 1.55"/>
<line x1="115.7" y1="229.54" x2="172.4" y2="229.54" stroke="#cdcdcd" stroke-width="1.2" stroke-linecap="butt" stroke-dasharray="2.6 1.55"/>
<line x1="115.7" y1="212.22" x2="172.4" y2="212.22" stroke="#cdcdcd" stroke-width="1.2" stroke-linecap="butt" stroke-dasharray="2.6 1.55"/>
<rect x="124.4" y="226.21" width="14.5" height="55.29" fill="#fff" stroke="#000" stroke-width="2"/>
<rect x="147.3" y="271.59" width="14" height="9.91" fill="#bde4e4" stroke="#000" stroke-width="2"/>
<line x1="114.2" y1="194" x2="114.2" y2="282.7" stroke="#000" stroke-width="2.4" stroke-linecap="butt"/>
<line x1="106.2" y1="281.5" x2="114.2" y2="281.5" stroke="#000" stroke-width="1.8" stroke-linecap="butt"/>
<text x="102.3" y="286" font-size="10.71" text-anchor="end" fill="#000">0</text>
<line x1="106.2" y1="264.18" x2="114.2" y2="264.18" stroke="#000" stroke-width="1.8" stroke-linecap="butt"/>
<text x="102.3" y="268.68" font-size="10.71" text-anchor="end" fill="#000">10</text>
<line x1="106.2" y1="246.86" x2="114.2" y2="246.86" stroke="#000" stroke-width="1.8" stroke-linecap="butt"/>
<text x="102.3" y="251.36" font-size="10.71" text-anchor="end" fill="#000">20</text>
<line x1="106.2" y1="229.54" x2="114.2" y2="229.54" stroke="#000" stroke-width="1.8" stroke-linecap="butt"/>
<text x="102.3" y="234.04" font-size="10.71" text-anchor="end" fill="#000">30</text>
<line x1="106.2" y1="212.22" x2="114.2" y2="212.22" stroke="#000" stroke-width="1.8" stroke-linecap="butt"/>
<text x="102.3" y="216.72" font-size="10.71" text-anchor="end" fill="#000">40</text>
<line x1="106.2" y1="194.9" x2="114.2" y2="194.9" stroke="#000" stroke-width="1.8" stroke-linecap="butt"/>
<text x="102.3" y="199.4" font-size="10.71" text-anchor="end" fill="#000">50</text>
<line x1="113" y1="281.5" x2="172.4" y2="281.5" stroke="#000" stroke-width="2.4" stroke-linecap="butt"/>
<line x1="131.1" y1="281.5" x2="131.1" y2="288.5" stroke="#000" stroke-width="2" stroke-linecap="butt"/>
<line x1="154.6" y1="281.5" x2="154.6" y2="288.5" stroke="#000" stroke-width="2" stroke-linecap="butt"/>
<line x1="131.65" y1="215.68" x2="131.65" y2="234.39" stroke="#000" stroke-width="1.3" stroke-linecap="butt"/>
<line x1="128.35" y1="215.68" x2="134.95" y2="215.68" stroke="#000" stroke-width="1.3" stroke-linecap="butt"/>
<line x1="131.65" y1="225.21" x2="131.65" y2="234.39" stroke="#000" stroke-width="1.3" stroke-linecap="butt"/>
<line x1="128.35" y1="234.39" x2="134.95" y2="234.39" stroke="#000" stroke-width="1.3" stroke-linecap="butt"/>
<circle cx="127.4" cy="214.99" r="2.9" fill="#000"/>
<circle cx="136.6" cy="218.28" r="2.9" fill="#000"/>
<circle cx="127.2" cy="233" r="2.9" fill="#000"/>
<circle cx="136.6" cy="233.7" r="2.9" fill="#000"/>
<line x1="154.3" y1="268.68" x2="154.3" y2="272.49" stroke="#000" stroke-width="1.3" stroke-linecap="butt"/>
<line x1="151" y1="268.68" x2="157.6" y2="268.68" stroke="#000" stroke-width="1.3" stroke-linecap="butt"/>
<line x1="154.3" y1="270.59" x2="154.3" y2="272.49" stroke="#000" stroke-width="1.3" stroke-linecap="butt"/>
<line x1="151" y1="272.49" x2="157.6" y2="272.49" stroke="#000" stroke-width="1.3" stroke-linecap="butt"/>
<circle cx="149" cy="266.43" r="2.3" fill="#fff" stroke="#000" stroke-width="1.3"/>
<circle cx="152.6" cy="270.07" r="2.3" fill="#fff" stroke="#000" stroke-width="1.3"/>
<circle cx="155.8" cy="270.93" r="2.3" fill="#fff" stroke="#000" stroke-width="1.3"/>
<circle cx="159.6" cy="271.45" r="2.3" fill="#fff" stroke="#000" stroke-width="1.3"/>
<text x="117" y="191.2" font-size="10.92" text-anchor="start" fill="#000" font-style="italic">P = 0.0001</text>
<path d="M130.7 200.4V194.9H155.5V200.4" fill="none" stroke="#000" stroke-width="1.4"/>
<text x="83.3" y="237.2" font-size="10.92" text-anchor="middle" fill="#000" transform="rotate(-90 83.3 237.2)">% IgG1+ B cells</text>
<text x="131.4" y="300.1" font-size="10.92" text-anchor="middle" fill="#000" font-style="italic">wt</text>
<text x="142.3" y="300.1" font-size="10.92" text-anchor="start" fill="#000" font-style="italic">Maea<tspan font-size="6.6" dy="-4">fl/fl</tspan></text>
<text x="144.4" y="312.6" font-size="10.92" text-anchor="start" fill="#000" font-style="italic">Mb1<tspan font-size="6.6" dy="-3.5">cre</tspan></text>
<line x1="235.6" y1="252.63" x2="292.3" y2="252.63" stroke="#cdcdcd" stroke-width="1.2" stroke-linecap="butt" stroke-dasharray="2.6 1.55"/>
<line x1="235.6" y1="223.77" x2="292.3" y2="223.77" stroke="#cdcdcd" stroke-width="1.2" stroke-linecap="butt" stroke-dasharray="2.6 1.55"/>
<rect x="244.3" y="222.75" width="14.1" height="58.75" fill="#fff" stroke="#000" stroke-width="2"/>
<rect x="267.2" y="265.18" width="13.6" height="16.32" fill="#bde4e4" stroke="#000" stroke-width="2"/>
<line x1="234.1" y1="194" x2="234.1" y2="282.7" stroke="#000" stroke-width="2.4" stroke-linecap="butt"/>
<line x1="226.1" y1="281.5" x2="234.1" y2="281.5" stroke="#000" stroke-width="1.8" stroke-linecap="butt"/>
<text x="222.2" y="286" font-size="10.71" text-anchor="end" fill="#000">0</text>
<line x1="226.1" y1="252.63" x2="234.1" y2="252.63" stroke="#000" stroke-width="1.8" stroke-linecap="butt"/>
<text x="222.2" y="257.13" font-size="10.71" text-anchor="end" fill="#000">5</text>
<line x1="226.1" y1="223.77" x2="234.1" y2="223.77" stroke="#000" stroke-width="1.8" stroke-linecap="butt"/>
<text x="222.2" y="228.27" font-size="10.71" text-anchor="end" fill="#000">10</text>
<line x1="226.1" y1="194.9" x2="234.1" y2="194.9" stroke="#000" stroke-width="1.8" stroke-linecap="butt"/>
<text x="222.2" y="199.4" font-size="10.71" text-anchor="end" fill="#000">15</text>
<line x1="232.9" y1="281.5" x2="292.3" y2="281.5" stroke="#000" stroke-width="2.4" stroke-linecap="butt"/>
<line x1="251.2" y1="281.5" x2="251.2" y2="288.5" stroke="#000" stroke-width="2" stroke-linecap="butt"/>
<line x1="274.5" y1="281.5" x2="274.5" y2="288.5" stroke="#000" stroke-width="2" stroke-linecap="butt"/>
<line x1="251.35" y1="208.76" x2="251.35" y2="234.16" stroke="#000" stroke-width="1.3" stroke-linecap="butt"/>
<line x1="248.05" y1="208.76" x2="254.65" y2="208.76" stroke="#000" stroke-width="1.3" stroke-linecap="butt"/>
<line x1="251.35" y1="221.75" x2="251.35" y2="234.16" stroke="#000" stroke-width="1.3" stroke-linecap="butt"/>
<line x1="248.05" y1="234.16" x2="254.65" y2="234.16" stroke="#000" stroke-width="1.3" stroke-linecap="butt"/>
<circle cx="247" cy="207.6" r="2.9" fill="#000"/>
<circle cx="256.1" cy="215.11" r="2.9" fill="#000"/>
<circle cx="247" cy="229.54" r="2.9" fill="#000"/>
<circle cx="256.1" cy="229.54" r="2.9" fill="#000"/>
<line x1="274" y1="260.72" x2="274" y2="267.07" stroke="#000" stroke-width="1.3" stroke-linecap="butt"/>
<line x1="270.7" y1="260.72" x2="277.3" y2="260.72" stroke="#000" stroke-width="1.3" stroke-linecap="butt"/>
<line x1="274" y1="264.18" x2="274" y2="267.07" stroke="#000" stroke-width="1.3" stroke-linecap="butt"/>
<line x1="270.7" y1="267.07" x2="277.3" y2="267.07" stroke="#000" stroke-width="1.3" stroke-linecap="butt"/>
<circle cx="269" cy="261" r="2.3" fill="#fff" stroke="#000" stroke-width="1.3"/>
<circle cx="272.8" cy="261.29" r="2.3" fill="#fff" stroke="#000" stroke-width="1.3"/>
<circle cx="275.4" cy="262.79" r="2.3" fill="#fff" stroke="#000" stroke-width="1.3"/>
<circle cx="279" cy="268.22" r="2.3" fill="#fff" stroke="#000" stroke-width="1.3"/>
<text x="238.7" y="191.2" font-size="10.92" text-anchor="start" fill="#000" font-style="italic">P = 0.0003</text>
<path d="M250.6 200.4V194.9H275V200.4" fill="none" stroke="#000" stroke-width="1.4"/>
<text x="202.2" y="237.2" font-size="10.92" text-anchor="middle" fill="#000" transform="rotate(-90 202.2 237.2)">% IgG2b+ B cells</text>
<text x="251.5" y="300.1" font-size="10.92" text-anchor="middle" fill="#000" font-style="italic">wt</text>
<text x="262.2" y="300.1" font-size="10.92" text-anchor="start" fill="#000" font-style="italic">Maea<tspan font-size="6.6" dy="-4">fl/fl</tspan></text>
<text x="264.3" y="312.6" font-size="10.92" text-anchor="start" fill="#000" font-style="italic">Mb1<tspan font-size="6.6" dy="-3.5">cre</tspan></text>
<line x1="357.9" y1="264.18" x2="414.6" y2="264.18" stroke="#cdcdcd" stroke-width="1.2" stroke-linecap="butt" stroke-dasharray="2.6 1.55"/>
<line x1="357.9" y1="246.86" x2="414.6" y2="246.86" stroke="#cdcdcd" stroke-width="1.2" stroke-linecap="butt" stroke-dasharray="2.6 1.55"/>
<line x1="357.9" y1="229.54" x2="414.6" y2="229.54" stroke="#cdcdcd" stroke-width="1.2" stroke-linecap="butt" stroke-dasharray="2.6 1.55"/>
<line x1="357.9" y1="212.22" x2="414.6" y2="212.22" stroke="#cdcdcd" stroke-width="1.2" stroke-linecap="butt" stroke-dasharray="2.6 1.55"/>
<rect x="366.6" y="219.8" width="14.1" height="61.7" fill="#fff" stroke="#000" stroke-width="2"/>
<rect x="391" y="268.3" width="12.7" height="13.2" fill="#bde4e4" stroke="#000" stroke-width="2"/>
<line x1="356.4" y1="194" x2="356.4" y2="282.7" stroke="#000" stroke-width="2.4" stroke-linecap="butt"/>
<line x1="348.4" y1="281.5" x2="356.4" y2="281.5" stroke="#000" stroke-width="1.8" stroke-linecap="butt"/>
<text x="344.5" y="286" font-size="10.71" text-anchor="end" fill="#000">0</text>
<line x1="348.4" y1="264.18" x2="356.4" y2="264.18" stroke="#000" stroke-width="1.8" stroke-linecap="butt"/>
<text x="344.5" y="268.68" font-size="10.71" text-anchor="end" fill="#000">5</text>
<line x1="348.4" y1="246.86" x2="356.4" y2="246.86" stroke="#000" stroke-width="1.8" stroke-linecap="butt"/>
<text x="344.5" y="251.36" font-size="10.71" text-anchor="end" fill="#000">10</text>
<line x1="348.4" y1="229.54" x2="356.4" y2="229.54" stroke="#000" stroke-width="1.8" stroke-linecap="butt"/>
<text x="344.5" y="234.04" font-size="10.71" text-anchor="end" fill="#000">15</text>
<line x1="348.4" y1="212.22" x2="356.4" y2="212.22" stroke="#000" stroke-width="1.8" stroke-linecap="butt"/>
<text x="344.5" y="216.72" font-size="10.71" text-anchor="end" fill="#000">20</text>
<line x1="348.4" y1="194.9" x2="356.4" y2="194.9" stroke="#000" stroke-width="1.8" stroke-linecap="butt"/>
<text x="344.5" y="199.4" font-size="10.71" text-anchor="end" fill="#000">25</text>
<line x1="355.2" y1="281.5" x2="414.6" y2="281.5" stroke="#000" stroke-width="2.4" stroke-linecap="butt"/>
<line x1="374" y1="281.5" x2="374" y2="288.5" stroke="#000" stroke-width="2" stroke-linecap="butt"/>
<line x1="396.8" y1="281.5" x2="396.8" y2="288.5" stroke="#000" stroke-width="2" stroke-linecap="butt"/>
<line x1="373.65" y1="204.6" x2="373.65" y2="231.96" stroke="#000" stroke-width="1.3" stroke-linecap="butt"/>
<line x1="370.35" y1="204.6" x2="376.95" y2="204.6" stroke="#000" stroke-width="1.3" stroke-linecap="butt"/>
<line x1="373.65" y1="218.8" x2="373.65" y2="231.96" stroke="#000" stroke-width="1.3" stroke-linecap="butt"/>
<line x1="370.35" y1="231.96" x2="376.95" y2="231.96" stroke="#000" stroke-width="1.3" stroke-linecap="butt"/>
<circle cx="369.4" cy="205.98" r="2.9" fill="#000"/>
<circle cx="379" cy="208.06" r="2.9" fill="#000"/>
<circle cx="369.4" cy="227.46" r="2.9" fill="#000"/>
<circle cx="379" cy="232.66" r="2.9" fill="#000"/>
<line x1="397.35" y1="263.14" x2="397.35" y2="271.8" stroke="#000" stroke-width="1.3" stroke-linecap="butt"/>
<line x1="394.05" y1="263.14" x2="400.65" y2="263.14" stroke="#000" stroke-width="1.3" stroke-linecap="butt"/>
<line x1="397.35" y1="267.3" x2="397.35" y2="271.8" stroke="#000" stroke-width="1.3" stroke-linecap="butt"/>
<line x1="394.05" y1="271.8" x2="400.65" y2="271.8" stroke="#000" stroke-width="1.3" stroke-linecap="butt"/>
<circle cx="392.8" cy="261.76" r="2.3" fill="#fff" stroke="#000" stroke-width="1.3"/>
<circle cx="400.1" cy="262.79" r="2.3" fill="#fff" stroke="#000" stroke-width="1.3"/>
<circle cx="393.7" cy="267.3" r="2.3" fill="#fff" stroke="#000" stroke-width="1.3"/>
<circle cx="399.7" cy="265.57" r="2.3" fill="#fff" stroke="#000" stroke-width="1.3"/>
<circle cx="401" cy="273.88" r="2.3" fill="#fff" stroke="#000" stroke-width="1.3"/>
<text x="358.3" y="191.2" font-size="10.92" text-anchor="start" fill="#000" font-style="italic">P = 0.0005</text>
<path d="M374.4 200.4V194.9H398.3V200.4" fill="none" stroke="#000" stroke-width="1.4"/>
<text x="326.9" y="237.2" font-size="10.92" text-anchor="middle" fill="#000" transform="rotate(-90 326.9 237.2)">% IgG3+ B cells</text>
<text x="374.3" y="300.1" font-size="10.92" text-anchor="middle" fill="#000" font-style="italic">wt</text>
<text x="384.5" y="300.1" font-size="10.92" text-anchor="start" fill="#000" font-style="italic">Maea<tspan font-size="6.6" dy="-4">fl/fl</tspan></text>
<text x="386.6" y="312.6" font-size="10.92" text-anchor="start" fill="#000" font-style="italic">Mb1<tspan font-size="6.6" dy="-3.5">cre</tspan></text>
<line x1="466.5" y1="259.85" x2="523.2" y2="259.85" stroke="#cdcdcd" stroke-width="1.2" stroke-linecap="butt" stroke-dasharray="2.6 1.55"/>
<line x1="466.5" y1="238.2" x2="523.2" y2="238.2" stroke="#cdcdcd" stroke-width="1.2" stroke-linecap="butt" stroke-dasharray="2.6 1.55"/>
<line x1="466.5" y1="216.55" x2="523.2" y2="216.55" stroke="#cdcdcd" stroke-width="1.2" stroke-linecap="butt" stroke-dasharray="2.6 1.55"/>
<rect x="475.2" y="214.63" width="14.5" height="66.87" fill="#fff" stroke="#000" stroke-width="2"/>
<rect x="498.7" y="251.76" width="13.4" height="29.74" fill="#bde4e4" stroke="#000" stroke-width="2"/>
<line x1="465" y1="194" x2="465" y2="282.7" stroke="#000" stroke-width="2.4" stroke-linecap="butt"/>
<line x1="457" y1="281.5" x2="465" y2="281.5" stroke="#000" stroke-width="1.8" stroke-linecap="butt"/>
<text x="453.1" y="286" font-size="10.71" text-anchor="end" fill="#000">0</text>
<line x1="457" y1="259.85" x2="465" y2="259.85" stroke="#000" stroke-width="1.8" stroke-linecap="butt"/>
<text x="453.1" y="264.35" font-size="10.71" text-anchor="end" fill="#000">2</text>
<line x1="457" y1="238.2" x2="465" y2="238.2" stroke="#000" stroke-width="1.8" stroke-linecap="butt"/>
<text x="453.1" y="242.7" font-size="10.71" text-anchor="end" fill="#000">4</text>
<line x1="457" y1="216.55" x2="465" y2="216.55" stroke="#000" stroke-width="1.8" stroke-linecap="butt"/>
<text x="453.1" y="221.05" font-size="10.71" text-anchor="end" fill="#000">6</text>
<line x1="457" y1="194.9" x2="465" y2="194.9" stroke="#000" stroke-width="1.8" stroke-linecap="butt"/>
<text x="453.1" y="199.4" font-size="10.71" text-anchor="end" fill="#000">8</text>
<line x1="463.8" y1="281.5" x2="523.2" y2="281.5" stroke="#000" stroke-width="2.4" stroke-linecap="butt"/>
<line x1="482.5" y1="281.5" x2="482.5" y2="288.5" stroke="#000" stroke-width="2" stroke-linecap="butt"/>
<line x1="505.4" y1="281.5" x2="505.4" y2="288.5" stroke="#000" stroke-width="2" stroke-linecap="butt"/>
<line x1="482.45" y1="203.13" x2="482.45" y2="222.4" stroke="#000" stroke-width="1.3" stroke-linecap="butt"/>
<line x1="479.15" y1="203.13" x2="485.75" y2="203.13" stroke="#000" stroke-width="1.3" stroke-linecap="butt"/>
<line x1="482.45" y1="213.63" x2="482.45" y2="222.4" stroke="#000" stroke-width="1.3" stroke-linecap="butt"/>
<line x1="479.15" y1="222.4" x2="485.75" y2="222.4" stroke="#000" stroke-width="1.3" stroke-linecap="butt"/>
<circle cx="477.5" cy="205.51" r="2.9" fill="#000"/>
<circle cx="482.5" cy="207.67" r="2.9" fill="#000"/>
<circle cx="487.4" cy="209.51" r="2.9" fill="#000"/>
<circle cx="482.5" cy="227.05" r="2.9" fill="#000"/>
<line x1="505.4" y1="245.78" x2="505.4" y2="255.52" stroke="#000" stroke-width="1.3" stroke-linecap="butt"/>
<line x1="502.1" y1="245.78" x2="508.7" y2="245.78" stroke="#000" stroke-width="1.3" stroke-linecap="butt"/>
<line x1="505.4" y1="250.76" x2="505.4" y2="255.52" stroke="#000" stroke-width="1.3" stroke-linecap="butt"/>
<line x1="502.1" y1="255.52" x2="508.7" y2="255.52" stroke="#000" stroke-width="1.3" stroke-linecap="butt"/>
<circle cx="499.5" cy="248.05" r="2.3" fill="#fff" stroke="#000" stroke-width="1.3"/>
<circle cx="505.4" cy="243.5" r="2.3" fill="#fff" stroke="#000" stroke-width="1.3"/>
<circle cx="505" cy="253.57" r="2.3" fill="#fff" stroke="#000" stroke-width="1.3"/>
<circle cx="510" cy="255.84" r="2.3" fill="#fff" stroke="#000" stroke-width="1.3"/>
<circle cx="505.4" cy="250.11" r="2.3" fill="#fff" stroke="#000" stroke-width="1.3"/>
<text x="465" y="191.2" font-size="10.92" text-anchor="start" fill="#000" font-style="italic">P = 0.0001</text>
<path d="M482.1 200.4V194.9H506.3V200.4" fill="none" stroke="#000" stroke-width="1.4"/>
<text x="439.6" y="237.2" font-size="10.92" text-anchor="middle" fill="#000" transform="rotate(-90 439.6 237.2)">% IgA+ B cells</text>
<text x="482.8" y="300.1" font-size="10.92" text-anchor="middle" fill="#000" font-style="italic">wt</text>
<text x="493.1" y="300.1" font-size="10.92" text-anchor="start" fill="#000" font-style="italic">Maea<tspan font-size="6.6" dy="-4">fl/fl</tspan></text>
<text x="495.2" y="312.6" font-size="10.92" text-anchor="start" fill="#000" font-style="italic">Mb1<tspan font-size="6.6" dy="-3.5">cre</tspan></text>
<line x1="589.3" y1="264.18" x2="646" y2="264.18" stroke="#cdcdcd" stroke-width="1.2" stroke-linecap="butt" stroke-dasharray="2.6 1.55"/>
<line x1="589.3" y1="246.86" x2="646" y2="246.86" stroke="#cdcdcd" stroke-width="1.2" stroke-linecap="butt" stroke-dasharray="2.6 1.55"/>
<line x1="589.3" y1="229.54" x2="646" y2="229.54" stroke="#cdcdcd" stroke-width="1.2" stroke-linecap="butt" stroke-dasharray="2.6 1.55"/>
<line x1="589.3" y1="212.22" x2="646" y2="212.22" stroke="#cdcdcd" stroke-width="1.2" stroke-linecap="butt" stroke-dasharray="2.6 1.55"/>
<rect x="597.4" y="215.64" width="14.2" height="65.86" fill="#fff" stroke="#000" stroke-width="2"/>
<rect x="620" y="280.46" width="14.6" height="1.04" fill="#000"/>
<line x1="587.8" y1="194" x2="587.8" y2="282.7" stroke="#000" stroke-width="2.4" stroke-linecap="butt"/>
<line x1="579.8" y1="281.5" x2="587.8" y2="281.5" stroke="#000" stroke-width="1.8" stroke-linecap="butt"/>
<text x="575.9" y="286" font-size="10.71" text-anchor="end" fill="#000">0.0</text>
<line x1="579.8" y1="264.18" x2="587.8" y2="264.18" stroke="#000" stroke-width="1.8" stroke-linecap="butt"/>
<text x="575.9" y="268.68" font-size="10.71" text-anchor="end" fill="#000">0.5</text>
<line x1="579.8" y1="246.86" x2="587.8" y2="246.86" stroke="#000" stroke-width="1.8" stroke-linecap="butt"/>
<text x="575.9" y="251.36" font-size="10.71" text-anchor="end" fill="#000">1.0</text>
<line x1="579.8" y1="229.54" x2="587.8" y2="229.54" stroke="#000" stroke-width="1.8" stroke-linecap="butt"/>
<text x="575.9" y="234.04" font-size="10.71" text-anchor="end" fill="#000">1.5</text>
<line x1="579.8" y1="212.22" x2="587.8" y2="212.22" stroke="#000" stroke-width="1.8" stroke-linecap="butt"/>
<text x="575.9" y="216.72" font-size="10.71" text-anchor="end" fill="#000">2.0</text>
<line x1="579.8" y1="194.9" x2="587.8" y2="194.9" stroke="#000" stroke-width="1.8" stroke-linecap="butt"/>
<text x="575.9" y="199.4" font-size="10.71" text-anchor="end" fill="#000">2.5</text>
<line x1="586.6" y1="281.5" x2="646" y2="281.5" stroke="#000" stroke-width="2.4" stroke-linecap="butt"/>
<line x1="604.3" y1="281.5" x2="604.3" y2="288.5" stroke="#000" stroke-width="2" stroke-linecap="butt"/>
<line x1="627.6" y1="281.5" x2="627.6" y2="288.5" stroke="#000" stroke-width="2" stroke-linecap="butt"/>
<line x1="604.5" y1="200.44" x2="604.5" y2="227.46" stroke="#000" stroke-width="1.3" stroke-linecap="butt"/>
<line x1="601.2" y1="200.44" x2="607.8" y2="200.44" stroke="#000" stroke-width="1.3" stroke-linecap="butt"/>
<line x1="604.5" y1="214.64" x2="604.5" y2="227.46" stroke="#000" stroke-width="1.3" stroke-linecap="butt"/>
<line x1="601.2" y1="227.46" x2="607.8" y2="227.46" stroke="#000" stroke-width="1.3" stroke-linecap="butt"/>
<circle cx="600.3" cy="199.75" r="2.9" fill="#000"/>
<circle cx="609.3" cy="205.98" r="2.9" fill="#000"/>
<circle cx="600.3" cy="221.23" r="2.9" fill="#000"/>
<circle cx="609.3" cy="229.54" r="2.9" fill="#000"/>
<circle cx="622.4" cy="278.38" r="2.3" fill="#fff" stroke="#000" stroke-width="1.3"/>
<circle cx="625.6" cy="279.08" r="2.3" fill="#fff" stroke="#000" stroke-width="1.3"/>
<circle cx="628.6" cy="279.42" r="2.3" fill="#fff" stroke="#000" stroke-width="1.3"/>
<circle cx="631.8" cy="280.11" r="2.3" fill="#fff" stroke="#000" stroke-width="1.3"/>
<text x="608.9" y="191.5" font-size="10.4" text-anchor="start" fill="#000">****</text>
<path d="M604.3 195.8V189.7H629V195.8" fill="none" stroke="#000" stroke-width="1.4"/>
<text x="553.2" y="237.2" font-size="10.92" text-anchor="middle" fill="#000" transform="rotate(-90 553.2 237.2)">% IgE+ B cells</text>
<text x="604.6" y="300.1" font-size="10.92" text-anchor="middle" fill="#000" font-style="italic">wt</text>
<text x="615.3" y="300.1" font-size="10.92" text-anchor="start" fill="#000" font-style="italic">Maea<tspan font-size="6.6" dy="-4">fl/fl</tspan></text>
<text x="617.4" y="312.6" font-size="10.92" text-anchor="start" fill="#000" font-style="italic">Mb1<tspan font-size="6.6" dy="-3.5">cre</tspan></text>
<text x="46.5" y="339" font-size="14.5" text-anchor="start" fill="#000" font-weight="bold">e</text>
<line x1="91.7" y1="354.67" x2="348.3" y2="354.67" stroke="#cdcdcd" stroke-width="1.2" stroke-linecap="butt" stroke-dasharray="2.6 1.55"/>
<line x1="91.7" y1="367.53" x2="348.3" y2="367.53" stroke="#cdcdcd" stroke-width="1.2" stroke-linecap="butt" stroke-dasharray="2.6 1.55"/>
<line x1="91.7" y1="380.4" x2="348.3" y2="380.4" stroke="#cdcdcd" stroke-width="1.2" stroke-linecap="butt" stroke-dasharray="2.6 1.55"/>
<line x1="91.7" y1="392.8" x2="348.3" y2="392.8" stroke="#cdcdcd" stroke-width="1.2" stroke-linecap="butt" stroke-dasharray="2.6 1.55"/>
<line x1="91.7" y1="405.24" x2="348.3" y2="405.24" stroke="#cdcdcd" stroke-width="1.2" stroke-linecap="butt" stroke-dasharray="2.6 1.55"/>
<line x1="91.7" y1="417.68" x2="348.3" y2="417.68" stroke="#cdcdcd" stroke-width="1.2" stroke-linecap="butt" stroke-dasharray="2.6 1.55"/>
<line x1="91.7" y1="430.12" x2="348.3" y2="430.12" stroke="#cdcdcd" stroke-width="1.2" stroke-linecap="butt" stroke-dasharray="2.6 1.55"/>
<line x1="91.7" y1="442.56" x2="348.3" y2="442.56" stroke="#cdcdcd" stroke-width="1.2" stroke-linecap="butt" stroke-dasharray="2.6 1.55"/>
<rect x="102.2" y="454" width="6.4" height="1" fill="#bde4e4"/>
<rect x="93.8" y="453.5" width="6.6" height="1.5" fill="#000"/>
<rect x="125.87" y="453" width="6.4" height="2" fill="#bde4e4"/>
<rect x="117.47" y="453.5" width="6.6" height="1.5" fill="#000"/>
<rect x="149.54" y="453" width="6.4" height="2" fill="#bde4e4"/>
<rect x="141.14" y="452.5" width="6.6" height="2.5" fill="#000"/>
<rect x="173.21" y="453" width="6.4" height="2" fill="#bde4e4"/>
<rect x="164.81" y="453" width="6.6" height="2" fill="#000"/>
<rect x="196.88" y="453" width="6.4" height="2" fill="#bde4e4"/>
<rect x="188.48" y="453" width="6.6" height="2" fill="#000"/>
<rect x="220.55" y="451" width="6.4" height="4" fill="#bde4e4"/>
<rect x="212.15" y="448.5" width="6.6" height="6.5" fill="#000"/>
<rect x="244.22" y="442" width="6.4" height="13" fill="#bde4e4"/>
<rect x="235.82" y="440.3" width="6.6" height="14.7" fill="#000"/>
<rect x="267.89" y="426.7" width="6.4" height="28.3" fill="#bde4e4"/>
<rect x="259.49" y="407.3" width="6.6" height="47.7" fill="#000"/>
<rect x="291.56" y="429.2" width="6.4" height="25.8" fill="#bde4e4"/>
<rect x="283.16" y="370.9" width="6.6" height="10.1" fill="#000"/>
<rect x="283.16" y="392.2" width="6.6" height="62.8" fill="#000"/>
<rect x="315.23" y="439" width="6.4" height="16" fill="#bde4e4"/>
<rect x="306.83" y="357.2" width="6.6" height="23.8" fill="#000"/>
<rect x="306.83" y="392.2" width="6.6" height="62.8" fill="#000"/>
<rect x="338.9" y="449" width="6.4" height="6" fill="#bde4e4"/>
<rect x="330.5" y="415.5" width="6.6" height="39.5" fill="#000"/>
<circle cx="97.1" cy="453.3" r="3" fill="#000"/>
<circle cx="120.77" cy="453.3" r="3" fill="#000"/>
<circle cx="144.44" cy="452.6" r="3" fill="#000"/>
<circle cx="168.11" cy="453" r="3" fill="#000"/>
<circle cx="191.78" cy="453.3" r="3" fill="#000"/>
<circle cx="191.78" cy="447.8" r="2.45" fill="#fff" stroke="#000" stroke-width="1.3"/>
<circle cx="215.45" cy="437.9" r="2.45" fill="#fff" stroke="#000" stroke-width="1.3"/>
<circle cx="239.12" cy="419.8" r="2.45" fill="#fff" stroke="#000" stroke-width="1.3"/>
<circle cx="262.79" cy="377" r="2.45" fill="#fff" stroke="#000" stroke-width="1.3"/>
<circle cx="286.46" cy="363.9" r="2.45" fill="#fff" stroke="#000" stroke-width="1.3"/>
<circle cx="310.13" cy="347.8" r="2.45" fill="#fff" stroke="#000" stroke-width="1.3"/>
<circle cx="310.13" cy="352.8" r="2.45" fill="#fff" stroke="#000" stroke-width="1.3"/>
<circle cx="333.8" cy="379.6" r="2.45" fill="#fff" stroke="#000" stroke-width="1.3"/>
<circle cx="333.8" cy="408.1" r="2.45" fill="#fff" stroke="#000" stroke-width="1.3"/>
<line x1="90.2" y1="340.9" x2="90.2" y2="380.4" stroke="#000" stroke-width="2.4" stroke-linecap="butt"/>
<line x1="90.2" y1="392.8" x2="90.2" y2="456.2" stroke="#000" stroke-width="2.4" stroke-linecap="butt"/>
<line x1="83" y1="341.8" x2="90.2" y2="341.8" stroke="#000" stroke-width="1.8" stroke-linecap="butt"/>
<text x="79" y="346.2" font-size="10.61" text-anchor="end" fill="#000">35</text>
<line x1="83" y1="354.67" x2="90.2" y2="354.67" stroke="#000" stroke-width="1.8" stroke-linecap="butt"/>
<text x="79" y="359.07" font-size="10.61" text-anchor="end" fill="#000">25</text>
<line x1="83" y1="367.53" x2="90.2" y2="367.53" stroke="#000" stroke-width="1.8" stroke-linecap="butt"/>
<text x="79" y="371.93" font-size="10.61" text-anchor="end" fill="#000">15</text>
<line x1="86" y1="380.4" x2="94.4" y2="380.4" stroke="#000" stroke-width="1.9" stroke-linecap="butt"/>
<text x="79" y="384.8" font-size="10.61" text-anchor="end" fill="#000">5</text>
<line x1="86" y1="392.8" x2="94.4" y2="392.8" stroke="#000" stroke-width="1.9" stroke-linecap="butt"/>
<text x="79" y="397.2" font-size="10.61" text-anchor="end" fill="#000">5</text>
<line x1="83" y1="405.24" x2="90.2" y2="405.24" stroke="#000" stroke-width="1.8" stroke-linecap="butt"/>
<text x="79" y="409.64" font-size="10.61" text-anchor="end" fill="#000">4</text>
<line x1="83" y1="417.68" x2="90.2" y2="417.68" stroke="#000" stroke-width="1.8" stroke-linecap="butt"/>
<text x="79" y="422.08" font-size="10.61" text-anchor="end" fill="#000">3</text>
<line x1="83" y1="430.12" x2="90.2" y2="430.12" stroke="#000" stroke-width="1.8" stroke-linecap="butt"/>
<text x="79" y="434.52" font-size="10.61" text-anchor="end" fill="#000">2</text>
<line x1="83" y1="442.56" x2="90.2" y2="442.56" stroke="#000" stroke-width="1.8" stroke-linecap="butt"/>
<text x="79" y="446.96" font-size="10.61" text-anchor="end" fill="#000">1</text>
<line x1="83" y1="455" x2="90.2" y2="455" stroke="#000" stroke-width="1.8" stroke-linecap="butt"/>
<text x="79" y="459.4" font-size="10.61" text-anchor="end" fill="#000">0</text>
<line x1="89" y1="455" x2="349.3" y2="455" stroke="#000" stroke-width="2.4" stroke-linecap="butt"/>
<line x1="100.6" y1="455" x2="100.6" y2="461.5" stroke="#000" stroke-width="2" stroke-linecap="butt"/>
<text x="100.6" y="473.8" font-size="10.4" text-anchor="middle" fill="#000">1</text>
<line x1="124.27" y1="455" x2="124.27" y2="461.5" stroke="#000" stroke-width="2" stroke-linecap="butt"/>
<text x="124.27" y="473.8" font-size="10.4" text-anchor="middle" fill="#000">2</text>
<line x1="147.94" y1="455" x2="147.94" y2="461.5" stroke="#000" stroke-width="2" stroke-linecap="butt"/>
<text x="147.94" y="473.8" font-size="10.4" text-anchor="middle" fill="#000">3</text>
<line x1="171.61" y1="455" x2="171.61" y2="461.5" stroke="#000" stroke-width="2" stroke-linecap="butt"/>
<text x="171.61" y="473.8" font-size="10.4" text-anchor="middle" fill="#000">4</text>
<line x1="195.28" y1="455" x2="195.28" y2="461.5" stroke="#000" stroke-width="2" stroke-linecap="butt"/>
<text x="195.28" y="473.8" font-size="10.4" text-anchor="middle" fill="#000">5</text>
<line x1="218.95" y1="455" x2="218.95" y2="461.5" stroke="#000" stroke-width="2" stroke-linecap="butt"/>
<text x="218.95" y="473.8" font-size="10.4" text-anchor="middle" fill="#000">6</text>
<line x1="242.62" y1="455" x2="242.62" y2="461.5" stroke="#000" stroke-width="2" stroke-linecap="butt"/>
<text x="242.62" y="473.8" font-size="10.4" text-anchor="middle" fill="#000">7</text>
<line x1="266.29" y1="455" x2="266.29" y2="461.5" stroke="#000" stroke-width="2" stroke-linecap="butt"/>
<text x="266.29" y="473.8" font-size="10.4" text-anchor="middle" fill="#000">8</text>
<line x1="289.96" y1="455" x2="289.96" y2="461.5" stroke="#000" stroke-width="2" stroke-linecap="butt"/>
<text x="289.96" y="473.8" font-size="10.4" text-anchor="middle" fill="#000">9</text>
<line x1="313.63" y1="455" x2="313.63" y2="461.5" stroke="#000" stroke-width="2" stroke-linecap="butt"/>
<text x="313.63" y="473.8" font-size="10.4" text-anchor="middle" fill="#000">10</text>
<line x1="337.3" y1="455" x2="337.3" y2="461.5" stroke="#000" stroke-width="2" stroke-linecap="butt"/>
<text x="337.3" y="473.8" font-size="10.4" text-anchor="middle" fill="#000">11</text>
<circle cx="105.3" cy="451.5" r="2.45" fill="#bde4e4" stroke="#000" stroke-width="1.3"/>
<circle cx="105.3" cy="454" r="2.45" fill="#bde4e4" stroke="#000" stroke-width="1.3"/>
<circle cx="128.97" cy="450.8" r="2.45" fill="#bde4e4" stroke="#000" stroke-width="1.3"/>
<circle cx="128.97" cy="453.5" r="2.45" fill="#bde4e4" stroke="#000" stroke-width="1.3"/>
<circle cx="152.64" cy="451.2" r="2.45" fill="#bde4e4" stroke="#000" stroke-width="1.3"/>
<circle cx="152.64" cy="454" r="2.45" fill="#bde4e4" stroke="#000" stroke-width="1.3"/>
<circle cx="176.31" cy="450.8" r="2.45" fill="#bde4e4" stroke="#000" stroke-width="1.3"/>
<circle cx="176.31" cy="454" r="2.45" fill="#bde4e4" stroke="#000" stroke-width="1.3"/>
<circle cx="199.98" cy="450.8" r="2.45" fill="#bde4e4" stroke="#000" stroke-width="1.3"/>
<circle cx="199.98" cy="453" r="2.45" fill="#bde4e4" stroke="#000" stroke-width="1.3"/>
<circle cx="223.65" cy="448" r="2.45" fill="#bde4e4" stroke="#000" stroke-width="1.3"/>
<circle cx="223.65" cy="450" r="2.45" fill="#bde4e4" stroke="#000" stroke-width="1.3"/>
<line x1="215.45" y1="441.6" x2="215.45" y2="448.5" stroke="#000" stroke-width="1.3" stroke-linecap="butt"/>
<line x1="212.85" y1="441.6" x2="218.05" y2="441.6" stroke="#000" stroke-width="1.3" stroke-linecap="butt"/>
<circle cx="247.32" cy="440.8" r="2.45" fill="#bde4e4" stroke="#000" stroke-width="1.3"/>
<circle cx="247.32" cy="442.2" r="2.45" fill="#bde4e4" stroke="#000" stroke-width="1.3"/>
<line x1="239.12" y1="426.2" x2="239.12" y2="440.3" stroke="#000" stroke-width="1.3" stroke-linecap="butt"/>
<line x1="236.52" y1="426.2" x2="241.72" y2="426.2" stroke="#000" stroke-width="1.3" stroke-linecap="butt"/>
<circle cx="270.99" cy="427.2" r="2.45" fill="#bde4e4" stroke="#000" stroke-width="1.3"/>
<circle cx="270.99" cy="431" r="2.45" fill="#bde4e4" stroke="#000" stroke-width="1.3"/>
<circle cx="270.99" cy="434.6" r="2.45" fill="#bde4e4" stroke="#000" stroke-width="1.3"/>
<line x1="262.79" y1="392.9" x2="262.79" y2="407.3" stroke="#000" stroke-width="1.3" stroke-linecap="butt"/>
<circle cx="294.66" cy="411.8" r="2.45" fill="#bde4e4" stroke="#000" stroke-width="1.3"/>
<circle cx="294.66" cy="429.2" r="2.45" fill="#bde4e4" stroke="#000" stroke-width="1.3"/>
<circle cx="294.66" cy="436.6" r="2.45" fill="#bde4e4" stroke="#000" stroke-width="1.3"/>
<circle cx="294.66" cy="441" r="2.45" fill="#bde4e4" stroke="#000" stroke-width="1.3"/>
<line x1="286.46" y1="368" x2="286.46" y2="370.9" stroke="#000" stroke-width="1.3" stroke-linecap="butt"/>
<line x1="294.66" y1="416.8" x2="294.66" y2="441" stroke="#000" stroke-width="1.2" stroke-linecap="butt"/>
<line x1="292.06" y1="416.8" x2="297.26" y2="416.8" stroke="#000" stroke-width="1.3" stroke-linecap="butt"/>
<circle cx="318.33" cy="421.7" r="2.45" fill="#bde4e4" stroke="#000" stroke-width="1.3"/>
<circle cx="318.33" cy="436.6" r="2.45" fill="#bde4e4" stroke="#000" stroke-width="1.3"/>
<circle cx="318.33" cy="443.6" r="2.45" fill="#bde4e4" stroke="#000" stroke-width="1.3"/>
<circle cx="318.33" cy="449" r="2.45" fill="#bde4e4" stroke="#000" stroke-width="1.3"/>
<line x1="318.33" y1="426.7" x2="318.33" y2="449" stroke="#000" stroke-width="1.2" stroke-linecap="butt"/>
<line x1="315.73" y1="426.7" x2="320.93" y2="426.7" stroke="#000" stroke-width="1.3" stroke-linecap="butt"/>
<circle cx="342" cy="449" r="2.45" fill="#bde4e4" stroke="#000" stroke-width="1.3"/>
<circle cx="342" cy="451.5" r="2.45" fill="#bde4e4" stroke="#000" stroke-width="1.3"/>
<line x1="333.8" y1="393.2" x2="333.8" y2="415.5" stroke="#000" stroke-width="1.3" stroke-linecap="butt"/>
<text x="88.9" y="473.6" font-size="10.92" text-anchor="end" fill="#000">Generation:</text>
<text x="212.2" y="487.2" font-size="10.92" text-anchor="middle" fill="#000">CFSE</text>
<text x="101.8" y="440.3" font-size="10.92" text-anchor="middle" fill="#000" font-style="italic">ns</text>
<text x="125.47" y="440.3" font-size="10.92" text-anchor="middle" fill="#000" font-style="italic">ns</text>
<text x="149.14" y="440.3" font-size="10.92" text-anchor="middle" fill="#000" font-style="italic">ns</text>
<text x="172.81" y="440.3" font-size="10.92" text-anchor="middle" fill="#000" font-style="italic">ns</text>
<text x="196.48" y="440.3" font-size="10.92" text-anchor="middle" fill="#000" font-style="italic">ns</text>
<text x="220.2" y="428" font-size="10.92" text-anchor="middle" fill="#000" font-style="italic">ns</text>
<text x="243.3" y="414.3" font-size="10.92" text-anchor="middle" fill="#000" font-style="italic">ns</text>
<text x="268" y="367.6" font-size="10.92" text-anchor="middle" fill="#000" font-style="italic">ns</text>
<text x="338.3" y="374.1" font-size="10.92" text-anchor="middle" fill="#000" font-style="italic">ns</text>
<text x="266.8" y="352.8" font-size="8.01" text-anchor="start" fill="#000"><tspan font-style="italic">P</tspan> = 0.0176</text>
<text x="292.8" y="342.8" font-size="8.01" text-anchor="start" fill="#000"><tspan font-style="italic">P</tspan> = 0.00351</text>
<text x="62.8" y="400.6" font-size="10.92" text-anchor="middle" fill="#000" transform="rotate(-90 62.8 400.6)">%  IgG1+ B cells</text>
<circle cx="104.7" cy="347.3" r="2.3" fill="#fff" stroke="#000" stroke-width="1.3"/>
<circle cx="104.7" cy="360.7" r="2.3" fill="#bde4e4" stroke="#000" stroke-width="1.3"/>
<text x="111" y="350.9" font-size="10.92" text-anchor="start" fill="#000" font-style="italic">wt</text>
<text x="111" y="366" font-size="10.92" text-anchor="start" fill="#000" font-style="italic">Maea<tspan font-size="7.3" dx="1.2" dy="-5">fl/fl</tspan><tspan dx="0.8" dy="5">Mb1</tspan><tspan font-size="7.3" dx="0.8" dy="-5">cre</tspan></text>
<line x1="418.9" y1="352.3" x2="676.6" y2="352.3" stroke="#cdcdcd" stroke-width="1.2" stroke-linecap="butt" stroke-dasharray="2.6 1.55"/>
<line x1="418.9" y1="372.1" x2="676.6" y2="372.1" stroke="#cdcdcd" stroke-width="1.2" stroke-linecap="butt" stroke-dasharray="2.6 1.55"/>
<line x1="418.9" y1="388" x2="676.6" y2="388" stroke="#cdcdcd" stroke-width="1.2" stroke-linecap="butt" stroke-dasharray="2.6 1.55"/>
<line x1="418.9" y1="404.95" x2="676.6" y2="404.95" stroke="#cdcdcd" stroke-width="1.2" stroke-linecap="butt" stroke-dasharray="2.6 1.55"/>
<line x1="418.9" y1="421.9" x2="676.6" y2="421.9" stroke="#cdcdcd" stroke-width="1.2" stroke-linecap="butt" stroke-dasharray="2.6 1.55"/>
<line x1="418.9" y1="438.85" x2="676.6" y2="438.85" stroke="#cdcdcd" stroke-width="1.2" stroke-linecap="butt" stroke-dasharray="2.6 1.55"/>
<rect x="421.6" y="455.3" width="6.6" height="0.5" fill="#000"/>
<rect x="445.28" y="455.3" width="6.6" height="0.5" fill="#000"/>
<rect x="468.96" y="455.3" width="6.6" height="0.5" fill="#000"/>
<rect x="492.64" y="455.3" width="6.6" height="0.5" fill="#000"/>
<rect x="516.32" y="455.3" width="6.6" height="0.5" fill="#000"/>
<rect x="548.4" y="454.3" width="6.4" height="1.5" fill="#bde4e4"/>
<rect x="540" y="452.3" width="6.6" height="3.5" fill="#000"/>
<rect x="572.08" y="453.8" width="6.4" height="2" fill="#bde4e4"/>
<rect x="563.68" y="452.8" width="6.6" height="3" fill="#000"/>
<rect x="595.76" y="439.1" width="6.4" height="16.7" fill="#bde4e4"/>
<rect x="587.36" y="446.6" width="6.6" height="9.2" fill="#000"/>
<rect x="619.44" y="421.8" width="6.4" height="34" fill="#bde4e4"/>
<rect x="611.04" y="406.9" width="6.6" height="48.9" fill="#000"/>
<rect x="643.12" y="415.5" width="6.4" height="40.3" fill="#bde4e4"/>
<rect x="634.72" y="352.8" width="6.6" height="28.5" fill="#000"/>
<rect x="634.72" y="387.4" width="6.6" height="68.4" fill="#000"/>
<rect x="666.8" y="449" width="6.4" height="6.8" fill="#bde4e4"/>
<rect x="658.4" y="375.8" width="6.6" height="5.5" fill="#000"/>
<rect x="658.4" y="387.4" width="6.6" height="68.4" fill="#000"/>
<circle cx="424.9" cy="455.6" r="2.45" fill="#fff" stroke="#000" stroke-width="1.3"/>
<circle cx="448.58" cy="455.6" r="2.45" fill="#fff" stroke="#000" stroke-width="1.3"/>
<circle cx="472.26" cy="455.6" r="2.45" fill="#fff" stroke="#000" stroke-width="1.3"/>
<circle cx="495.94" cy="455.6" r="2.45" fill="#fff" stroke="#000" stroke-width="1.3"/>
<circle cx="519.62" cy="455.6" r="2.45" fill="#fff" stroke="#000" stroke-width="1.3"/>
<circle cx="543.3" cy="454" r="3" fill="#000"/>
<circle cx="566.98" cy="454" r="3" fill="#000"/>
<circle cx="566.98" cy="452.5" r="2.45" fill="#fff" stroke="#000" stroke-width="1.3"/>
<circle cx="590.66" cy="439.1" r="2.45" fill="#fff" stroke="#000" stroke-width="1.3"/>
<circle cx="590.66" cy="447.6" r="2.45" fill="#fff" stroke="#000" stroke-width="1.3"/>
<circle cx="614.34" cy="378.8" r="2.45" fill="#fff" stroke="#000" stroke-width="1.3"/>
<circle cx="614.34" cy="397.7" r="2.45" fill="#fff" stroke="#000" stroke-width="1.3"/>
<circle cx="638.02" cy="349" r="2.45" fill="#fff" stroke="#000" stroke-width="1.3"/>
<circle cx="638.02" cy="351" r="2.45" fill="#fff" stroke="#000" stroke-width="1.3"/>
<circle cx="661.7" cy="376.6" r="2.45" fill="#fff" stroke="#000" stroke-width="1.3"/>
<circle cx="661.7" cy="379.6" r="2.45" fill="#fff" stroke="#000" stroke-width="1.3"/>
<line x1="417.4" y1="341.8" x2="417.4" y2="380.7" stroke="#000" stroke-width="2.4" stroke-linecap="butt"/>
<line x1="417.4" y1="388" x2="417.4" y2="457" stroke="#000" stroke-width="2.4" stroke-linecap="butt"/>
<line x1="410.2" y1="342.7" x2="417.4" y2="342.7" stroke="#000" stroke-width="1.8" stroke-linecap="butt"/>
<line x1="410.2" y1="352.3" x2="417.4" y2="352.3" stroke="#000" stroke-width="1.8" stroke-linecap="butt"/>
<text x="408.4" y="356.7" font-size="10.61" text-anchor="end" fill="#000">8</text>
<line x1="410.2" y1="372.1" x2="417.4" y2="372.1" stroke="#000" stroke-width="1.8" stroke-linecap="butt"/>
<text x="408.4" y="376.5" font-size="10.61" text-anchor="end" fill="#000">4</text>
<line x1="413.2" y1="380.7" x2="421.6" y2="380.7" stroke="#000" stroke-width="1.9" stroke-linecap="butt"/>
<line x1="413.2" y1="388" x2="421.6" y2="388" stroke="#000" stroke-width="1.9" stroke-linecap="butt"/>
<text x="408.4" y="392.4" font-size="10.61" text-anchor="end" fill="#000">2.0</text>
<line x1="410.2" y1="404.95" x2="417.4" y2="404.95" stroke="#000" stroke-width="1.8" stroke-linecap="butt"/>
<text x="408.4" y="409.35" font-size="10.61" text-anchor="end" fill="#000">1.5</text>
<line x1="410.2" y1="421.9" x2="417.4" y2="421.9" stroke="#000" stroke-width="1.8" stroke-linecap="butt"/>
<text x="408.4" y="426.3" font-size="10.61" text-anchor="end" fill="#000">1.0</text>
<line x1="410.2" y1="438.85" x2="417.4" y2="438.85" stroke="#000" stroke-width="1.8" stroke-linecap="butt"/>
<text x="408.4" y="443.25" font-size="10.61" text-anchor="end" fill="#000">0.5</text>
<line x1="410.2" y1="455.8" x2="417.4" y2="455.8" stroke="#000" stroke-width="1.8" stroke-linecap="butt"/>
<text x="408.4" y="460.2" font-size="10.61" text-anchor="end" fill="#000">0.0</text>
<line x1="416.2" y1="455.8" x2="677.6" y2="455.8" stroke="#000" stroke-width="2.4" stroke-linecap="butt"/>
<line x1="428.4" y1="455.8" x2="428.4" y2="462.3" stroke="#000" stroke-width="2" stroke-linecap="butt"/>
<text x="428.4" y="473.8" font-size="10.4" text-anchor="middle" fill="#000">1</text>
<line x1="452.08" y1="455.8" x2="452.08" y2="462.3" stroke="#000" stroke-width="2" stroke-linecap="butt"/>
<text x="452.08" y="473.8" font-size="10.4" text-anchor="middle" fill="#000">2</text>
<line x1="475.76" y1="455.8" x2="475.76" y2="462.3" stroke="#000" stroke-width="2" stroke-linecap="butt"/>
<text x="475.76" y="473.8" font-size="10.4" text-anchor="middle" fill="#000">3</text>
<line x1="499.44" y1="455.8" x2="499.44" y2="462.3" stroke="#000" stroke-width="2" stroke-linecap="butt"/>
<text x="499.44" y="473.8" font-size="10.4" text-anchor="middle" fill="#000">4</text>
<line x1="523.12" y1="455.8" x2="523.12" y2="462.3" stroke="#000" stroke-width="2" stroke-linecap="butt"/>
<text x="523.12" y="473.8" font-size="10.4" text-anchor="middle" fill="#000">5</text>
<line x1="546.8" y1="455.8" x2="546.8" y2="462.3" stroke="#000" stroke-width="2" stroke-linecap="butt"/>
<text x="546.8" y="473.8" font-size="10.4" text-anchor="middle" fill="#000">6</text>
<line x1="570.48" y1="455.8" x2="570.48" y2="462.3" stroke="#000" stroke-width="2" stroke-linecap="butt"/>
<text x="570.48" y="473.8" font-size="10.4" text-anchor="middle" fill="#000">7</text>
<line x1="594.16" y1="455.8" x2="594.16" y2="462.3" stroke="#000" stroke-width="2" stroke-linecap="butt"/>
<text x="594.16" y="473.8" font-size="10.4" text-anchor="middle" fill="#000">8</text>
<line x1="617.84" y1="455.8" x2="617.84" y2="462.3" stroke="#000" stroke-width="2" stroke-linecap="butt"/>
<text x="617.84" y="473.8" font-size="10.4" text-anchor="middle" fill="#000">9</text>
<line x1="641.52" y1="455.8" x2="641.52" y2="462.3" stroke="#000" stroke-width="2" stroke-linecap="butt"/>
<text x="641.52" y="473.8" font-size="10.4" text-anchor="middle" fill="#000">10</text>
<line x1="665.2" y1="455.8" x2="665.2" y2="462.3" stroke="#000" stroke-width="2" stroke-linecap="butt"/>
<text x="665.2" y="473.8" font-size="10.4" text-anchor="middle" fill="#000">11</text>
<circle cx="433.1" cy="455.6" r="2.45" fill="#bde4e4" stroke="#000" stroke-width="1.3"/>
<circle cx="456.78" cy="455" r="2.45" fill="#bde4e4" stroke="#000" stroke-width="1.3"/>
<circle cx="456.78" cy="454.2" r="2.45" fill="#bde4e4" stroke="#000" stroke-width="1.3"/>
<circle cx="480.46" cy="455" r="2.45" fill="#bde4e4" stroke="#000" stroke-width="1.3"/>
<circle cx="480.46" cy="454" r="2.45" fill="#bde4e4" stroke="#000" stroke-width="1.3"/>
<circle cx="504.14" cy="455" r="2.45" fill="#bde4e4" stroke="#000" stroke-width="1.3"/>
<circle cx="504.14" cy="454.2" r="2.45" fill="#bde4e4" stroke="#000" stroke-width="1.3"/>
<circle cx="527.82" cy="455" r="2.45" fill="#bde4e4" stroke="#000" stroke-width="1.3"/>
<circle cx="527.82" cy="453.8" r="2.45" fill="#bde4e4" stroke="#000" stroke-width="1.3"/>
<circle cx="551.5" cy="452" r="2.45" fill="#bde4e4" stroke="#000" stroke-width="1.3"/>
<circle cx="551.5" cy="454" r="2.45" fill="#bde4e4" stroke="#000" stroke-width="1.3"/>
<circle cx="575.18" cy="449" r="2.45" fill="#bde4e4" stroke="#000" stroke-width="1.3"/>
<circle cx="575.18" cy="451.5" r="2.45" fill="#bde4e4" stroke="#000" stroke-width="1.3"/>
<circle cx="598.86" cy="439.1" r="2.45" fill="#bde4e4" stroke="#000" stroke-width="1.3"/>
<circle cx="598.86" cy="442.8" r="2.45" fill="#bde4e4" stroke="#000" stroke-width="1.3"/>
<circle cx="598.86" cy="447.1" r="2.45" fill="#bde4e4" stroke="#000" stroke-width="1.3"/>
<circle cx="622.54" cy="420" r="2.45" fill="#bde4e4" stroke="#000" stroke-width="1.3"/>
<circle cx="622.54" cy="424.2" r="2.45" fill="#bde4e4" stroke="#000" stroke-width="1.3"/>
<circle cx="622.54" cy="435.4" r="2.45" fill="#bde4e4" stroke="#000" stroke-width="1.3"/>
<line x1="614.34" y1="387.5" x2="614.34" y2="406.9" stroke="#000" stroke-width="1.3" stroke-linecap="butt"/>
<line x1="622.54" y1="417.5" x2="622.54" y2="435.4" stroke="#000" stroke-width="1.2" stroke-linecap="butt"/>
<line x1="619.94" y1="417.5" x2="625.14" y2="417.5" stroke="#000" stroke-width="1.3" stroke-linecap="butt"/>
<circle cx="646.22" cy="380.8" r="2.45" fill="#bde4e4" stroke="#000" stroke-width="1.3"/>
<circle cx="646.22" cy="415.5" r="2.45" fill="#bde4e4" stroke="#000" stroke-width="1.3"/>
<circle cx="646.22" cy="421.8" r="2.45" fill="#bde4e4" stroke="#000" stroke-width="1.3"/>
<circle cx="646.22" cy="426.7" r="2.45" fill="#bde4e4" stroke="#000" stroke-width="1.3"/>
<line x1="646.22" y1="393.2" x2="646.22" y2="426.7" stroke="#000" stroke-width="1.2" stroke-linecap="butt"/>
<line x1="643.62" y1="393.2" x2="648.82" y2="393.2" stroke="#000" stroke-width="1.3" stroke-linecap="butt"/>
<circle cx="669.9" cy="446" r="2.45" fill="#bde4e4" stroke="#000" stroke-width="1.3"/>
<circle cx="669.9" cy="451.5" r="2.45" fill="#bde4e4" stroke="#000" stroke-width="1.3"/>
<text x="417.6" y="473.6" font-size="10.92" text-anchor="end" fill="#000">Generation:</text>
<text x="541.7" y="487.2" font-size="10.92" text-anchor="middle" fill="#000">CFSE</text>
<text x="429.2" y="437.6" font-size="10.92" text-anchor="middle" fill="#000" font-style="italic">ns</text>
<text x="452.88" y="437.6" font-size="10.92" text-anchor="middle" fill="#000" font-style="italic">ns</text>
<text x="476.56" y="437.6" font-size="10.92" text-anchor="middle" fill="#000" font-style="italic">ns</text>
<text x="500.24" y="437.6" font-size="10.92" text-anchor="middle" fill="#000" font-style="italic">ns</text>
<text x="523.92" y="437.6" font-size="10.92" text-anchor="middle" fill="#000" font-style="italic">ns</text>
<text x="547.6" y="437.6" font-size="10.92" text-anchor="middle" fill="#000" font-style="italic">ns</text>
<text x="571.28" y="437.6" font-size="10.92" text-anchor="middle" fill="#000" font-style="italic">ns</text>
<text x="594.5" y="430.4" font-size="10.92" text-anchor="middle" fill="#000" font-style="italic">ns</text>
<text x="617" y="370.9" font-size="10.92" text-anchor="middle" fill="#000" font-style="italic">ns</text>
<text x="618.7" y="343.6" font-size="8.01" text-anchor="start" fill="#000"><tspan font-style="italic">P</tspan> = 0.00014</text>
<text x="647.8" y="367.6" font-size="8.01" text-anchor="start" fill="#000"><tspan font-style="italic">P</tspan> = 0.0332</text>
<text x="386.1" y="402.5" font-size="10.92" text-anchor="middle" fill="#000" transform="rotate(-90 386.1 402.5)">%  IgG2b+ B cells</text>
<circle cx="430" cy="344.3" r="2.3" fill="#fff" stroke="#000" stroke-width="1.3"/>
<circle cx="430" cy="359.7" r="2.3" fill="#bde4e4" stroke="#000" stroke-width="1.3"/>
<text x="438.2" y="347.8" font-size="10.92" text-anchor="start" fill="#000" font-style="italic">wt</text>
<text x="438.2" y="365.1" font-size="10.92" text-anchor="start" fill="#000" font-style="italic">Maea<tspan font-size="7.3" dx="1.2" dy="-5">fl/fl</tspan><tspan dx="0.8" dy="5">Mb1</tspan><tspan font-size="7.3" dx="0.8" dy="-5">cre</tspan></text>
<text x="48.6" y="534.6" font-size="14.5" text-anchor="start" fill="#000" font-weight="bold">f</text>
<line x1="123.6" y1="578.73" x2="180.1" y2="578.73" stroke="#cdcdcd" stroke-width="1.2" stroke-linecap="butt" stroke-dasharray="2.6 1.55"/>
<line x1="123.6" y1="549.57" x2="180.1" y2="549.57" stroke="#cdcdcd" stroke-width="1.2" stroke-linecap="butt" stroke-dasharray="2.6 1.55"/>
<rect x="131.9" y="557.98" width="14" height="49.92" fill="#fff" stroke="#000" stroke-width="2"/>
<rect x="154.9" y="603.94" width="14.4" height="3.96" fill="#bde4e4" stroke="#000" stroke-width="2"/>
<line x1="122.1" y1="519.5" x2="122.1" y2="609.1" stroke="#000" stroke-width="2.4" stroke-linecap="butt"/>
<line x1="113.6" y1="607.9" x2="122.1" y2="607.9" stroke="#000" stroke-width="1.8" stroke-linecap="butt"/>
<text x="110.2" y="612.4" font-size="10.71" text-anchor="end" fill="#000">0</text>
<line x1="113.6" y1="578.73" x2="122.1" y2="578.73" stroke="#000" stroke-width="1.8" stroke-linecap="butt"/>
<text x="110.2" y="583.23" font-size="10.71" text-anchor="end" fill="#000">50</text>
<line x1="113.6" y1="549.57" x2="122.1" y2="549.57" stroke="#000" stroke-width="1.8" stroke-linecap="butt"/>
<text x="110.2" y="554.07" font-size="10.71" text-anchor="end" fill="#000">100</text>
<line x1="113.6" y1="520.4" x2="122.1" y2="520.4" stroke="#000" stroke-width="1.8" stroke-linecap="butt"/>
<text x="110.2" y="524.9" font-size="10.71" text-anchor="end" fill="#000">150</text>
<line x1="120.9" y1="607.9" x2="180.1" y2="607.9" stroke="#000" stroke-width="2.4" stroke-linecap="butt"/>
<line x1="139" y1="607.9" x2="139" y2="614.9" stroke="#000" stroke-width="2" stroke-linecap="butt"/>
<line x1="161.5" y1="607.9" x2="161.5" y2="614.9" stroke="#000" stroke-width="2" stroke-linecap="butt"/>
<line x1="138.9" y1="546.07" x2="138.9" y2="568.23" stroke="#000" stroke-width="1.3" stroke-linecap="butt"/>
<line x1="135.6" y1="546.07" x2="142.2" y2="546.07" stroke="#000" stroke-width="1.3" stroke-linecap="butt"/>
<line x1="138.9" y1="556.98" x2="138.9" y2="568.23" stroke="#000" stroke-width="1.3" stroke-linecap="butt"/>
<line x1="135.6" y1="568.23" x2="142.2" y2="568.23" stroke="#000" stroke-width="1.3" stroke-linecap="butt"/>
<circle cx="139" cy="539.88" r="2.9" fill="#000"/>
<circle cx="144" cy="547.12" r="2.9" fill="#000"/>
<circle cx="134.2" cy="553.59" r="2.9" fill="#000"/>
<circle cx="139.8" cy="551.9" r="2.9" fill="#000"/>
<circle cx="143.8" cy="550.15" r="2.9" fill="#000"/>
<circle cx="135.2" cy="564.62" r="2.9" fill="#000"/>
<circle cx="141.8" cy="569.98" r="2.9" fill="#000"/>
<circle cx="139.5" cy="566.48" r="2.9" fill="#000"/>
<line x1="162.1" y1="599.15" x2="162.1" y2="606.15" stroke="#000" stroke-width="1.3" stroke-linecap="butt"/>
<line x1="158.8" y1="599.15" x2="165.4" y2="599.15" stroke="#000" stroke-width="1.3" stroke-linecap="butt"/>
<line x1="162.1" y1="602.94" x2="162.1" y2="606.15" stroke="#000" stroke-width="1.3" stroke-linecap="butt"/>
<line x1="158.8" y1="606.15" x2="165.4" y2="606.15" stroke="#000" stroke-width="1.3" stroke-linecap="butt"/>
<circle cx="160" cy="594.6" r="2.3" fill="#fff" stroke="#000" stroke-width="1.3"/>
<circle cx="163.7" cy="597.4" r="2.3" fill="#fff" stroke="#000" stroke-width="1.3"/>
<circle cx="157.5" cy="600.02" r="2.3" fill="#fff" stroke="#000" stroke-width="1.3"/>
<circle cx="165" cy="601.02" r="2.3" fill="#fff" stroke="#000" stroke-width="1.3"/>
<circle cx="156" cy="603" r="2.3" fill="#fff" stroke="#000" stroke-width="1.3"/>
<circle cx="159.3" cy="604.69" r="2.3" fill="#fff" stroke="#000" stroke-width="1.3"/>
<circle cx="162" cy="604.98" r="2.3" fill="#fff" stroke="#000" stroke-width="1.3"/>
<circle cx="167" cy="606.91" r="2.3" fill="#fff" stroke="#000" stroke-width="1.3"/>
<text x="141.8" y="522.2" font-size="10.4" text-anchor="start" fill="#000">****</text>
<path d="M138.5 525.8V521.5H162.6V525.8" fill="none" stroke="#000" stroke-width="1.4"/>
<text x="87.7" y="562" font-size="11.13" text-anchor="middle" fill="#000" transform="rotate(-90 87.7 562)">µ&#8201;g/mL (IgM)</text>
<text x="137.5" y="628.6" font-size="10.92" text-anchor="middle" fill="#000" font-style="italic">wt</text>
<text x="152.8" y="628.6" font-size="10.92" text-anchor="start" fill="#000" font-style="italic">Maea<tspan font-size="6.6" dy="-4">fl/fl</tspan></text>
<text x="155.6" y="641.4" font-size="10.92" text-anchor="start" fill="#000" font-style="italic">Mb1<tspan font-size="6.6" dy="-3.5">cre</tspan></text>
<line x1="241.6" y1="586.02" x2="300.4" y2="586.02" stroke="#cdcdcd" stroke-width="1.2" stroke-linecap="butt" stroke-dasharray="2.6 1.55"/>
<line x1="241.6" y1="564.15" x2="300.4" y2="564.15" stroke="#cdcdcd" stroke-width="1.2" stroke-linecap="butt" stroke-dasharray="2.6 1.55"/>
<line x1="241.6" y1="542.27" x2="300.4" y2="542.27" stroke="#cdcdcd" stroke-width="1.2" stroke-linecap="butt" stroke-dasharray="2.6 1.55"/>
<rect x="250.7" y="556.62" width="14.3" height="51.28" fill="#fff" stroke="#000" stroke-width="2"/>
<rect x="274.4" y="585.82" width="14.3" height="22.08" fill="#bde4e4" stroke="#000" stroke-width="2"/>
<line x1="240.1" y1="519.5" x2="240.1" y2="609.1" stroke="#000" stroke-width="2.4" stroke-linecap="butt"/>
<line x1="231.6" y1="607.9" x2="240.1" y2="607.9" stroke="#000" stroke-width="1.8" stroke-linecap="butt"/>
<text x="228.2" y="612.4" font-size="10.71" text-anchor="end" fill="#000">0</text>
<line x1="231.6" y1="586.02" x2="240.1" y2="586.02" stroke="#000" stroke-width="1.8" stroke-linecap="butt"/>
<text x="228.2" y="590.52" font-size="10.71" text-anchor="end" fill="#000">200</text>
<line x1="231.6" y1="564.15" x2="240.1" y2="564.15" stroke="#000" stroke-width="1.8" stroke-linecap="butt"/>
<text x="228.2" y="568.65" font-size="10.71" text-anchor="end" fill="#000">400</text>
<line x1="231.6" y1="542.27" x2="240.1" y2="542.27" stroke="#000" stroke-width="1.8" stroke-linecap="butt"/>
<text x="228.2" y="546.77" font-size="10.71" text-anchor="end" fill="#000">600</text>
<line x1="231.6" y1="520.4" x2="240.1" y2="520.4" stroke="#000" stroke-width="1.8" stroke-linecap="butt"/>
<text x="228.2" y="524.9" font-size="10.71" text-anchor="end" fill="#000">800</text>
<line x1="238.9" y1="607.9" x2="300.4" y2="607.9" stroke="#000" stroke-width="2.4" stroke-linecap="butt"/>
<line x1="258" y1="607.9" x2="258" y2="614.9" stroke="#000" stroke-width="2" stroke-linecap="butt"/>
<line x1="281.6" y1="607.9" x2="281.6" y2="614.9" stroke="#000" stroke-width="2" stroke-linecap="butt"/>
<line x1="257.85" y1="542.93" x2="257.85" y2="568.52" stroke="#000" stroke-width="1.3" stroke-linecap="butt"/>
<line x1="254.55" y1="542.93" x2="261.15" y2="542.93" stroke="#000" stroke-width="1.3" stroke-linecap="butt"/>
<line x1="257.85" y1="555.62" x2="257.85" y2="568.52" stroke="#000" stroke-width="1.3" stroke-linecap="butt"/>
<line x1="254.55" y1="568.52" x2="261.15" y2="568.52" stroke="#000" stroke-width="1.3" stroke-linecap="butt"/>
<circle cx="258" cy="537.46" r="2.9" fill="#000"/>
<circle cx="252.3" cy="547.63" r="2.9" fill="#000"/>
<circle cx="263.6" cy="547.63" r="2.9" fill="#000"/>
<circle cx="257.4" cy="548.07" r="2.9" fill="#000"/>
<circle cx="255.8" cy="555.18" r="2.9" fill="#000"/>
<circle cx="260.5" cy="561.31" r="2.9" fill="#000"/>
<circle cx="255.8" cy="561.31" r="2.9" fill="#000"/>
<circle cx="259.5" cy="566.45" r="2.9" fill="#000"/>
<circle cx="258" cy="577.27" r="2.9" fill="#000"/>
<line x1="281.55" y1="570.49" x2="281.55" y2="599.15" stroke="#000" stroke-width="1.3" stroke-linecap="butt"/>
<line x1="278.25" y1="570.49" x2="284.85" y2="570.49" stroke="#000" stroke-width="1.3" stroke-linecap="butt"/>
<line x1="281.55" y1="584.82" x2="281.55" y2="599.15" stroke="#000" stroke-width="1.3" stroke-linecap="butt"/>
<line x1="278.25" y1="599.15" x2="284.85" y2="599.15" stroke="#000" stroke-width="1.3" stroke-linecap="butt"/>
<circle cx="277.9" cy="567.43" r="2.3" fill="#fff" stroke="#000" stroke-width="1.3"/>
<circle cx="283" cy="571.15" r="2.3" fill="#fff" stroke="#000" stroke-width="1.3"/>
<circle cx="285.2" cy="572.57" r="2.3" fill="#fff" stroke="#000" stroke-width="1.3"/>
<circle cx="281" cy="577.71" r="2.3" fill="#fff" stroke="#000" stroke-width="1.3"/>
<circle cx="277.9" cy="583.84" r="2.3" fill="#fff" stroke="#000" stroke-width="1.3"/>
<circle cx="284.4" cy="576.62" r="2.3" fill="#fff" stroke="#000" stroke-width="1.3"/>
<circle cx="276.9" cy="594.99" r="2.3" fill="#fff" stroke="#000" stroke-width="1.3"/>
<circle cx="281" cy="597.73" r="2.3" fill="#fff" stroke="#000" stroke-width="1.3"/>
<circle cx="286" cy="599.48" r="2.3" fill="#fff" stroke="#000" stroke-width="1.3"/>
<circle cx="283" cy="599.48" r="2.3" fill="#fff" stroke="#000" stroke-width="1.3"/>
<text x="242.7" y="517.4" font-size="10.92" text-anchor="start" fill="#000" font-style="italic">P = 0.0002</text>
<path d="M258 524.1V519.8H281.6V524.1" fill="none" stroke="#000" stroke-width="1.4"/>
<text x="204" y="557.7" font-size="11.13" text-anchor="middle" fill="#000" transform="rotate(-90 204 557.7)">µg/mL (IgA)</text>
<text x="256.9" y="628.6" font-size="10.92" text-anchor="middle" fill="#000" font-style="italic">wt</text>
<text x="272.8" y="628.6" font-size="10.92" text-anchor="start" fill="#000" font-style="italic">Maea<tspan font-size="6.6" dy="-4">fl/fl</tspan></text>
<text x="275.4" y="641.4" font-size="10.92" text-anchor="start" fill="#000" font-style="italic">Mb1<tspan font-size="6.6" dy="-3.5">cre</tspan></text>
<line x1="365.9" y1="590.4" x2="423.6" y2="590.4" stroke="#cdcdcd" stroke-width="1.2" stroke-linecap="butt" stroke-dasharray="2.6 1.55"/>
<line x1="365.9" y1="572.9" x2="423.6" y2="572.9" stroke="#cdcdcd" stroke-width="1.2" stroke-linecap="butt" stroke-dasharray="2.6 1.55"/>
<line x1="365.9" y1="555.4" x2="423.6" y2="555.4" stroke="#cdcdcd" stroke-width="1.2" stroke-linecap="butt" stroke-dasharray="2.6 1.55"/>
<line x1="365.9" y1="537.9" x2="423.6" y2="537.9" stroke="#cdcdcd" stroke-width="1.2" stroke-linecap="butt" stroke-dasharray="2.6 1.55"/>
<rect x="374.6" y="569" width="14.3" height="38.9" fill="#fff" stroke="#000" stroke-width="2"/>
<rect x="398.7" y="594.64" width="13.7" height="13.26" fill="#bde4e4" stroke="#000" stroke-width="2"/>
<line x1="364.4" y1="519.5" x2="364.4" y2="609.1" stroke="#000" stroke-width="2.4" stroke-linecap="butt"/>
<line x1="355.9" y1="607.9" x2="364.4" y2="607.9" stroke="#000" stroke-width="1.8" stroke-linecap="butt"/>
<text x="352.5" y="612.4" font-size="10.71" text-anchor="end" fill="#000">0</text>
<line x1="355.9" y1="590.4" x2="364.4" y2="590.4" stroke="#000" stroke-width="1.8" stroke-linecap="butt"/>
<text x="352.5" y="594.9" font-size="10.71" text-anchor="end" fill="#000">200</text>
<line x1="355.9" y1="572.9" x2="364.4" y2="572.9" stroke="#000" stroke-width="1.8" stroke-linecap="butt"/>
<text x="352.5" y="577.4" font-size="10.71" text-anchor="end" fill="#000">400</text>
<line x1="355.9" y1="555.4" x2="364.4" y2="555.4" stroke="#000" stroke-width="1.8" stroke-linecap="butt"/>
<text x="352.5" y="559.9" font-size="10.71" text-anchor="end" fill="#000">600</text>
<line x1="355.9" y1="537.9" x2="364.4" y2="537.9" stroke="#000" stroke-width="1.8" stroke-linecap="butt"/>
<text x="352.5" y="542.4" font-size="10.71" text-anchor="end" fill="#000">800</text>
<line x1="355.9" y1="520.4" x2="364.4" y2="520.4" stroke="#000" stroke-width="1.8" stroke-linecap="butt"/>
<text x="352.5" y="524.9" font-size="10.71" text-anchor="end" fill="#000">1000</text>
<line x1="363.2" y1="607.9" x2="423.6" y2="607.9" stroke="#000" stroke-width="2.4" stroke-linecap="butt"/>
<line x1="381.7" y1="607.9" x2="381.7" y2="614.9" stroke="#000" stroke-width="2" stroke-linecap="butt"/>
<line x1="405.3" y1="607.9" x2="405.3" y2="614.9" stroke="#000" stroke-width="2" stroke-linecap="butt"/>
<line x1="381.75" y1="554.17" x2="381.75" y2="581.65" stroke="#000" stroke-width="1.3" stroke-linecap="butt"/>
<line x1="378.45" y1="554.17" x2="385.05" y2="554.17" stroke="#000" stroke-width="1.3" stroke-linecap="butt"/>
<line x1="381.75" y1="568" x2="381.75" y2="581.65" stroke="#000" stroke-width="1.3" stroke-linecap="butt"/>
<line x1="378.45" y1="581.65" x2="385.05" y2="581.65" stroke="#000" stroke-width="1.3" stroke-linecap="butt"/>
<circle cx="381.7" cy="543.94" r="2.9" fill="#000"/>
<circle cx="379.7" cy="559.34" r="2.9" fill="#000"/>
<circle cx="384.8" cy="558.2" r="2.9" fill="#000"/>
<circle cx="379.1" cy="565.81" r="2.9" fill="#000"/>
<circle cx="383.8" cy="566.42" r="2.9" fill="#000"/>
<circle cx="376.6" cy="576.57" r="2.9" fill="#000"/>
<circle cx="381.7" cy="581.74" r="2.9" fill="#000"/>
<circle cx="386.9" cy="582.79" r="2.9" fill="#000"/>
<circle cx="382.8" cy="571.5" r="2.9" fill="#000"/>
<line x1="405.55" y1="582.79" x2="405.55" y2="604.4" stroke="#000" stroke-width="1.3" stroke-linecap="butt"/>
<line x1="402.25" y1="582.79" x2="408.85" y2="582.79" stroke="#000" stroke-width="1.3" stroke-linecap="butt"/>
<line x1="405.55" y1="593.64" x2="405.55" y2="604.4" stroke="#000" stroke-width="1.3" stroke-linecap="butt"/>
<line x1="402.25" y1="604.4" x2="408.85" y2="604.4" stroke="#000" stroke-width="1.3" stroke-linecap="butt"/>
<circle cx="402.2" cy="576.57" r="2.3" fill="#fff" stroke="#000" stroke-width="1.3"/>
<circle cx="406.7" cy="581.74" r="2.3" fill="#fff" stroke="#000" stroke-width="1.3"/>
<circle cx="404.2" cy="589.96" r="2.3" fill="#fff" stroke="#000" stroke-width="1.3"/>
<circle cx="407.3" cy="589.96" r="2.3" fill="#fff" stroke="#000" stroke-width="1.3"/>
<circle cx="402.2" cy="600.11" r="2.3" fill="#fff" stroke="#000" stroke-width="1.3"/>
<circle cx="406.3" cy="600.64" r="2.3" fill="#fff" stroke="#000" stroke-width="1.3"/>
<circle cx="410.4" cy="604.57" r="2.3" fill="#fff" stroke="#000" stroke-width="1.3"/>
<circle cx="401.2" cy="596" r="2.3" fill="#fff" stroke="#000" stroke-width="1.3"/>
<text x="367" y="516.3" font-size="10.92" text-anchor="start" fill="#000" font-style="italic">P = 0.0003</text>
<path d="M380.7 523.5V519.4H404.6V523.5" fill="none" stroke="#000" stroke-width="1.4"/>
<text x="327.3" y="559.3" font-size="11.13" text-anchor="middle" fill="#000" transform="rotate(-90 327.3 559.3)">µg/mL (IgG1)</text>
<text x="381.2" y="628.6" font-size="10.92" text-anchor="middle" fill="#000" font-style="italic">wt</text>
<text x="397.1" y="628.6" font-size="10.92" text-anchor="start" fill="#000" font-style="italic">Maea<tspan font-size="6.6" dy="-4">fl/fl</tspan></text>
<text x="399.5" y="641.4" font-size="10.92" text-anchor="start" fill="#000" font-style="italic">Mb1<tspan font-size="6.6" dy="-3.5">cre</tspan></text>
<line x1="484.4" y1="586.02" x2="542.2" y2="586.02" stroke="#cdcdcd" stroke-width="1.2" stroke-linecap="butt" stroke-dasharray="2.6 1.55"/>
<line x1="484.4" y1="564.15" x2="542.2" y2="564.15" stroke="#cdcdcd" stroke-width="1.2" stroke-linecap="butt" stroke-dasharray="2.6 1.55"/>
<line x1="484.4" y1="542.27" x2="542.2" y2="542.27" stroke="#cdcdcd" stroke-width="1.2" stroke-linecap="butt" stroke-dasharray="2.6 1.55"/>
<rect x="493.1" y="553.51" width="14.8" height="54.39" fill="#fff" stroke="#000" stroke-width="2"/>
<rect x="516.6" y="574.99" width="14.4" height="32.91" fill="#bde4e4" stroke="#000" stroke-width="2"/>
<line x1="482.9" y1="519.5" x2="482.9" y2="609.1" stroke="#000" stroke-width="2.4" stroke-linecap="butt"/>
<line x1="474.4" y1="607.9" x2="482.9" y2="607.9" stroke="#000" stroke-width="1.8" stroke-linecap="butt"/>
<text x="471" y="612.4" font-size="10.71" text-anchor="end" fill="#000">0</text>
<line x1="474.4" y1="586.02" x2="482.9" y2="586.02" stroke="#000" stroke-width="1.8" stroke-linecap="butt"/>
<text x="471" y="590.52" font-size="10.71" text-anchor="end" fill="#000">50</text>
<line x1="474.4" y1="564.15" x2="482.9" y2="564.15" stroke="#000" stroke-width="1.8" stroke-linecap="butt"/>
<text x="471" y="568.65" font-size="10.71" text-anchor="end" fill="#000">100</text>
<line x1="474.4" y1="542.27" x2="482.9" y2="542.27" stroke="#000" stroke-width="1.8" stroke-linecap="butt"/>
<text x="471" y="546.77" font-size="10.71" text-anchor="end" fill="#000">150</text>
<line x1="474.4" y1="520.4" x2="482.9" y2="520.4" stroke="#000" stroke-width="1.8" stroke-linecap="butt"/>
<text x="471" y="524.9" font-size="10.71" text-anchor="end" fill="#000">200</text>
<line x1="481.7" y1="607.9" x2="542.2" y2="607.9" stroke="#000" stroke-width="2.4" stroke-linecap="butt"/>
<line x1="500.7" y1="607.9" x2="500.7" y2="614.9" stroke="#000" stroke-width="2" stroke-linecap="butt"/>
<line x1="524.2" y1="607.9" x2="524.2" y2="614.9" stroke="#000" stroke-width="2" stroke-linecap="butt"/>
<line x1="500.5" y1="545.99" x2="500.5" y2="559.34" stroke="#000" stroke-width="1.3" stroke-linecap="butt"/>
<line x1="497.2" y1="545.99" x2="503.8" y2="545.99" stroke="#000" stroke-width="1.3" stroke-linecap="butt"/>
<line x1="500.5" y1="552.51" x2="500.5" y2="559.34" stroke="#000" stroke-width="1.3" stroke-linecap="butt"/>
<line x1="497.2" y1="559.34" x2="503.8" y2="559.34" stroke="#000" stroke-width="1.3" stroke-linecap="butt"/>
<circle cx="504.4" cy="544.02" r="2.9" fill="#000"/>
<circle cx="505.8" cy="545.34" r="2.9" fill="#000"/>
<circle cx="495.6" cy="547.96" r="2.9" fill="#000"/>
<circle cx="499.7" cy="550.15" r="2.9" fill="#000"/>
<circle cx="496.6" cy="555.4" r="2.9" fill="#000"/>
<circle cx="500.7" cy="553.21" r="2.9" fill="#000"/>
<circle cx="498.7" cy="556.27" r="2.9" fill="#000"/>
<circle cx="502.8" cy="563.71" r="2.9" fill="#000"/>
<line x1="523.8" y1="560.21" x2="523.8" y2="587.77" stroke="#000" stroke-width="1.3" stroke-linecap="butt"/>
<line x1="520.5" y1="560.21" x2="527.1" y2="560.21" stroke="#000" stroke-width="1.3" stroke-linecap="butt"/>
<line x1="523.8" y1="573.99" x2="523.8" y2="587.77" stroke="#000" stroke-width="1.3" stroke-linecap="butt"/>
<line x1="520.5" y1="587.77" x2="527.1" y2="587.77" stroke="#000" stroke-width="1.3" stroke-linecap="butt"/>
<circle cx="522.2" cy="554.96" r="2.3" fill="#fff" stroke="#000" stroke-width="1.3"/>
<circle cx="525.9" cy="561.09" r="2.3" fill="#fff" stroke="#000" stroke-width="1.3"/>
<circle cx="529.3" cy="568.96" r="2.3" fill="#fff" stroke="#000" stroke-width="1.3"/>
<circle cx="519.1" cy="571.15" r="2.3" fill="#fff" stroke="#000" stroke-width="1.3"/>
<circle cx="524.6" cy="567.21" r="2.3" fill="#fff" stroke="#000" stroke-width="1.3"/>
<circle cx="520.5" cy="576.62" r="2.3" fill="#fff" stroke="#000" stroke-width="1.3"/>
<circle cx="524.2" cy="582.96" r="2.3" fill="#fff" stroke="#000" stroke-width="1.3"/>
<circle cx="527.7" cy="583.84" r="2.3" fill="#fff" stroke="#000" stroke-width="1.3"/>
<circle cx="523.8" cy="596.96" r="2.3" fill="#fff" stroke="#000" stroke-width="1.3"/>
<text x="487" y="516.3" font-size="10.92" text-anchor="start" fill="#000" font-style="italic">P = 0.0004</text>
<path d="M500.7 523.5V519.4H524.6V523.5" fill="none" stroke="#000" stroke-width="1.4"/>
<text x="451.4" y="562" font-size="11.13" text-anchor="middle" fill="#000" transform="rotate(-90 451.4 562)">µ&#8201;g/mL (IgG2b)</text>
<text x="501.5" y="628.6" font-size="10.92" text-anchor="middle" fill="#000" font-style="italic">wt</text>
<text x="515.6" y="628.6" font-size="10.92" text-anchor="start" fill="#000" font-style="italic">Maea<tspan font-size="6.6" dy="-4">fl/fl</tspan></text>
<text x="518.1" y="641.4" font-size="10.92" text-anchor="start" fill="#000" font-style="italic">Mb1<tspan font-size="6.6" dy="-3.5">cre</tspan></text>
<line x1="606.4" y1="586.02" x2="663.5" y2="586.02" stroke="#cdcdcd" stroke-width="1.2" stroke-linecap="butt" stroke-dasharray="2.6 1.55"/>
<line x1="606.4" y1="564.15" x2="663.5" y2="564.15" stroke="#cdcdcd" stroke-width="1.2" stroke-linecap="butt" stroke-dasharray="2.6 1.55"/>
<line x1="606.4" y1="542.27" x2="663.5" y2="542.27" stroke="#cdcdcd" stroke-width="1.2" stroke-linecap="butt" stroke-dasharray="2.6 1.55"/>
<rect x="614.9" y="563.4" width="14.5" height="44.5" fill="#fff" stroke="#000" stroke-width="2"/>
<rect x="637.5" y="607.24" width="15" height="0.66" fill="#000"/>
<line x1="604.9" y1="519.5" x2="604.9" y2="609.1" stroke="#000" stroke-width="2.4" stroke-linecap="butt"/>
<line x1="596.4" y1="607.9" x2="604.9" y2="607.9" stroke="#000" stroke-width="1.8" stroke-linecap="butt"/>
<text x="593" y="612.4" font-size="10.71" text-anchor="end" fill="#000">0</text>
<line x1="596.4" y1="586.02" x2="604.9" y2="586.02" stroke="#000" stroke-width="1.8" stroke-linecap="butt"/>
<text x="593" y="590.52" font-size="10.71" text-anchor="end" fill="#000">50</text>
<line x1="596.4" y1="564.15" x2="604.9" y2="564.15" stroke="#000" stroke-width="1.8" stroke-linecap="butt"/>
<text x="593" y="568.65" font-size="10.71" text-anchor="end" fill="#000">100</text>
<line x1="596.4" y1="542.27" x2="604.9" y2="542.27" stroke="#000" stroke-width="1.8" stroke-linecap="butt"/>
<text x="593" y="546.77" font-size="10.71" text-anchor="end" fill="#000">150</text>
<line x1="596.4" y1="520.4" x2="604.9" y2="520.4" stroke="#000" stroke-width="1.8" stroke-linecap="butt"/>
<text x="593" y="524.9" font-size="10.71" text-anchor="end" fill="#000">200</text>
<line x1="603.7" y1="607.9" x2="663.5" y2="607.9" stroke="#000" stroke-width="2.4" stroke-linecap="butt"/>
<line x1="622" y1="607.9" x2="622" y2="614.9" stroke="#000" stroke-width="2" stroke-linecap="butt"/>
<line x1="645.1" y1="607.9" x2="645.1" y2="614.9" stroke="#000" stroke-width="2" stroke-linecap="butt"/>
<line x1="622.15" y1="545.99" x2="622.15" y2="578.15" stroke="#000" stroke-width="1.3" stroke-linecap="butt"/>
<line x1="618.85" y1="545.99" x2="625.45" y2="545.99" stroke="#000" stroke-width="1.3" stroke-linecap="butt"/>
<line x1="622.15" y1="562.4" x2="622.15" y2="578.15" stroke="#000" stroke-width="1.3" stroke-linecap="butt"/>
<line x1="618.85" y1="578.15" x2="625.45" y2="578.15" stroke="#000" stroke-width="1.3" stroke-linecap="butt"/>
<circle cx="622" cy="540.09" r="2.9" fill="#000"/>
<circle cx="616.9" cy="551.9" r="2.9" fill="#000"/>
<circle cx="622.7" cy="548.62" r="2.9" fill="#000"/>
<circle cx="627.8" cy="549.01" r="2.9" fill="#000"/>
<circle cx="619.6" cy="570.49" r="2.9" fill="#000"/>
<circle cx="625.7" cy="571.59" r="2.9" fill="#000"/>
<circle cx="619.6" cy="580.77" r="2.9" fill="#000"/>
<circle cx="624.7" cy="581.65" r="2.9" fill="#000"/>
<circle cx="640" cy="606.15" r="2.3" fill="#fff" stroke="#000" stroke-width="1.3"/>
<circle cx="643.5" cy="605.27" r="2.3" fill="#fff" stroke="#000" stroke-width="1.3"/>
<circle cx="647" cy="606.59" r="2.3" fill="#fff" stroke="#000" stroke-width="1.3"/>
<circle cx="650.5" cy="607.02" r="2.3" fill="#fff" stroke="#000" stroke-width="1.3"/>
<circle cx="645" cy="607.02" r="2.3" fill="#fff" stroke="#000" stroke-width="1.3"/>
<circle cx="648" cy="605.71" r="2.3" fill="#fff" stroke="#000" stroke-width="1.3"/>
<text x="626.3" y="521.8" font-size="10.4" text-anchor="start" fill="#000">****</text>
<path d="M622 524.1V519.8H645.6V524.1" fill="none" stroke="#000" stroke-width="1.4"/>
<text x="572.3" y="565" font-size="11.13" text-anchor="middle" fill="#000" transform="rotate(-90 572.3 565)">µg/mL (IgG3)</text>
<text x="622.5" y="628.6" font-size="10.92" text-anchor="middle" fill="#000" font-style="italic">wt</text>
<text x="638" y="628.6" font-size="10.92" text-anchor="start" fill="#000" font-style="italic">Maea<tspan font-size="6.6" dy="-4">fl/fl</tspan></text>
<text x="640" y="641.4" font-size="10.92" text-anchor="start" fill="#000" font-style="italic">Mb1<tspan font-size="6.6" dy="-3.5">cre</tspan></text>
<text x="43.4" y="671.9" font-size="14.5" text-anchor="start" fill="#000" font-weight="bold">g</text>
<path d="M105.2 667.4 A63 63 0 0 1 152.02 688.24 L121.77 715.48 A22.3 22.3 0 0 0 105.2 708.1 Z" fill="#3a3af5" stroke="#3a3af5" stroke-width="0.4"/>
<path d="M152.02 688.24 A63 63 0 0 1 160.83 759.98 L124.89 740.87 A22.3 22.3 0 0 0 121.77 715.48 Z" fill="#5757f7" stroke="#5757f7" stroke-width="0.4"/>
<path d="M160.83 759.98 A63 63 0 0 1 129.82 788.39 L113.91 750.93 A22.3 22.3 0 0 0 124.89 740.87 Z" fill="#54a0fa" stroke="#54a0fa" stroke-width="0.4"/>
<path d="M129.82 788.39 A63 63 0 0 1 43.06 720 L83.21 726.72 A22.3 22.3 0 0 0 113.91 750.93 Z" fill="#92c0fa" stroke="#92c0fa" stroke-width="0.4"/>
<path d="M43.06 720 A63 63 0 0 1 73.99 675.68 L94.15 711.03 A22.3 22.3 0 0 0 83.21 726.72 Z" fill="#c9ddf8" stroke="#c9ddf8" stroke-width="0.4"/>
<circle cx="105.2" cy="730.4" r="63" fill="none" stroke="#000" stroke-width="2.2"/>
<circle cx="105.2" cy="730.4" r="22.3" fill="#fff" stroke="#000" stroke-width="2.2"/>
<text x="95" y="694.9" font-size="10.92" text-anchor="middle" fill="#222">8%</text>
<text x="125.2" y="694.9" font-size="10.92" text-anchor="middle" fill="#fff">13%</text>
<text x="70" y="710.2" font-size="10.92" text-anchor="middle" fill="#222">14%</text>
<text x="148.8" y="731" font-size="10.92" text-anchor="middle" fill="#fff">20%</text>
<text x="78.2" y="763.9" font-size="10.92" text-anchor="middle" fill="#222">34%</text>
<text x="135.4" y="767.1" font-size="10.92" text-anchor="middle" fill="#fff">10%</text>
<text x="105.2" y="734.3" font-size="10.92" text-anchor="middle" fill="#000" font-style="italic">n = 96</text>
<text x="105.3" y="811" font-size="10.92" text-anchor="middle" fill="#000" font-style="italic">wt</text>
<path d="M238 667.6 A63 63 0 0 1 248.29 668.45 L241.64 708.6 A22.3 22.3 0 0 0 238 708.3 Z" fill="#5757f7" stroke="#5757f7" stroke-width="0.4"/>
<path d="M248.29 668.45 A63 63 0 0 1 274.14 678.99 L250.79 712.33 A22.3 22.3 0 0 0 241.64 708.6 Z" fill="#54a0fa" stroke="#54a0fa" stroke-width="0.4"/>
<path d="M274.14 678.99 A63 63 0 0 1 262.11 788.8 L246.53 751.2 A22.3 22.3 0 0 0 250.79 712.33 Z" fill="#92c0fa" stroke="#92c0fa" stroke-width="0.4"/>
<path d="M262.11 788.8 A63 63 0 0 1 175.1 734.23 L215.74 731.88 A22.3 22.3 0 0 0 246.53 751.2 Z" fill="#c9ddf8" stroke="#c9ddf8" stroke-width="0.4"/>
<circle cx="238" cy="730.6" r="63" fill="none" stroke="#000" stroke-width="2.2"/>
<circle cx="238" cy="730.6" r="22.3" fill="#fff" stroke="#000" stroke-width="2.2"/>
<text x="245.4" y="662.7" font-size="10.92" text-anchor="middle" fill="#222">4%</text>
<text x="255.8" y="692.7" font-size="10.92" text-anchor="middle" fill="#fff">7%</text>
<text x="209" y="708" font-size="10.92" text-anchor="middle" fill="#222">26%</text>
<text x="279.7" y="738" font-size="10.92" text-anchor="middle" fill="#222">33%</text>
<text x="217.7" y="768.2" font-size="10.92" text-anchor="middle" fill="#222">30%</text>
<text x="238" y="734.3" font-size="10.92" text-anchor="middle" fill="#000" font-style="italic">n = 183</text>
<text x="240.5" y="811.6" font-size="10.92" text-anchor="middle" fill="#000" font-style="italic">Maea<tspan font-size="7.2" dx="0.8" dy="-4.8">fl/fl</tspan><tspan dx="0.8" dy="4.8">Mb1</tspan><tspan font-size="7.2" dx="0.6" dy="-4.8">cre</tspan></text>
<text x="308" y="690.2" font-size="11.13" text-anchor="start" fill="#000">bp mutated</text>
<circle cx="313.4" cy="701.7" r="3.8" fill="#ffffff" stroke="#000" stroke-width="1.25"/>
<text x="321" y="705.5" font-size="10.92" text-anchor="start" fill="#000">0</text>
<circle cx="313.4" cy="716.8" r="3.8" fill="#c9ddf8" stroke="#000" stroke-width="1.25"/>
<text x="321" y="720.6" font-size="10.92" text-anchor="start" fill="#000">1</text>
<circle cx="313.4" cy="731.6" r="3.8" fill="#92c0fa" stroke="#000" stroke-width="1.25"/>
<text x="321" y="735.4" font-size="10.92" text-anchor="start" fill="#000">2 to 5</text>
<circle cx="313.4" cy="746.6" r="3.8" fill="#54a0fa" stroke="#000" stroke-width="1.25"/>
<text x="321" y="750.4" font-size="10.92" text-anchor="start" fill="#000">6 to 10</text>
<circle cx="313.4" cy="761.5" r="3.8" fill="#5757f7" stroke="#000" stroke-width="1.25"/>
<text x="321" y="765.3" font-size="10.92" text-anchor="start" fill="#000">11 to 20</text>
<circle cx="313.4" cy="776.8" r="3.8" fill="#0000c4" stroke="#000" stroke-width="1.25"/>
<text x="321" y="780.6" font-size="10.92" text-anchor="start" fill="#000">21+</text>
<text x="380.5" y="672" font-size="14.5" text-anchor="start" fill="#000" font-weight="bold">h</text>
<line x1="443.9" y1="751.5" x2="525.5" y2="751.5" stroke="#cdcdcd" stroke-width="1.2" stroke-linecap="butt" stroke-dasharray="2.6 1.55"/>
<line x1="443.9" y1="730.8" x2="525.5" y2="730.8" stroke="#cdcdcd" stroke-width="1.2" stroke-linecap="butt" stroke-dasharray="2.6 1.55"/>
<line x1="443.9" y1="710.1" x2="525.5" y2="710.1" stroke="#cdcdcd" stroke-width="1.2" stroke-linecap="butt" stroke-dasharray="2.6 1.55"/>
<rect x="452.3" y="732.63" width="14.5" height="39.57" fill="#fff" stroke="#000" stroke-width="2"/>
<rect x="475.6" y="765.33" width="14.9" height="6.87" fill="#bde4e4" stroke="#000" stroke-width="2"/>
<rect x="498.5" y="772.2" width="17" height="0" fill="#000"/>
<line x1="442.4" y1="688.5" x2="442.4" y2="773.4" stroke="#000" stroke-width="2.4" stroke-linecap="butt"/>
<line x1="434.3" y1="772.2" x2="442.4" y2="772.2" stroke="#000" stroke-width="1.8" stroke-linecap="butt"/>
<text x="431.6" y="776.7" font-size="10.71" text-anchor="end" fill="#000">0</text>
<line x1="434.3" y1="751.5" x2="442.4" y2="751.5" stroke="#000" stroke-width="1.8" stroke-linecap="butt"/>
<text x="431.6" y="756" font-size="10.71" text-anchor="end" fill="#000">50</text>
<line x1="434.3" y1="730.8" x2="442.4" y2="730.8" stroke="#000" stroke-width="1.8" stroke-linecap="butt"/>
<text x="431.6" y="735.3" font-size="10.71" text-anchor="end" fill="#000">100</text>
<line x1="434.3" y1="710.1" x2="442.4" y2="710.1" stroke="#000" stroke-width="1.8" stroke-linecap="butt"/>
<text x="431.6" y="714.6" font-size="10.71" text-anchor="end" fill="#000">150</text>
<line x1="434.3" y1="689.4" x2="442.4" y2="689.4" stroke="#000" stroke-width="1.8" stroke-linecap="butt"/>
<text x="431.6" y="693.9" font-size="10.71" text-anchor="end" fill="#000">200</text>
<line x1="441.2" y1="772.2" x2="525.5" y2="772.2" stroke="#000" stroke-width="2.4" stroke-linecap="butt"/>
<line x1="459.8" y1="772.2" x2="459.8" y2="779.2" stroke="#000" stroke-width="2" stroke-linecap="butt"/>
<line x1="483.1" y1="772.2" x2="483.1" y2="779.2" stroke="#000" stroke-width="2" stroke-linecap="butt"/>
<line x1="506.8" y1="772.2" x2="506.8" y2="779.2" stroke="#000" stroke-width="2" stroke-linecap="butt"/>
<line x1="459.55" y1="722.4" x2="459.55" y2="738.29" stroke="#000" stroke-width="1.3" stroke-linecap="butt"/>
<line x1="456.25" y1="722.4" x2="462.85" y2="722.4" stroke="#000" stroke-width="1.3" stroke-linecap="butt"/>
<line x1="459.55" y1="731.63" x2="459.55" y2="738.29" stroke="#000" stroke-width="1.3" stroke-linecap="butt"/>
<line x1="456.25" y1="738.29" x2="462.85" y2="738.29" stroke="#000" stroke-width="1.3" stroke-linecap="butt"/>
<circle cx="459.9" cy="719.62" r="2.9" fill="#000"/>
<circle cx="453.1" cy="732.46" r="2.9" fill="#000"/>
<circle cx="459.2" cy="734.11" r="2.9" fill="#000"/>
<circle cx="465.5" cy="734.11" r="2.9" fill="#000"/>
<line x1="483.05" y1="761.85" x2="483.05" y2="765.58" stroke="#000" stroke-width="1.3" stroke-linecap="butt"/>
<line x1="479.75" y1="761.85" x2="486.35" y2="761.85" stroke="#000" stroke-width="1.3" stroke-linecap="butt"/>
<line x1="483.05" y1="764.33" x2="483.05" y2="765.58" stroke="#000" stroke-width="1.3" stroke-linecap="butt"/>
<line x1="479.75" y1="765.58" x2="486.35" y2="765.58" stroke="#000" stroke-width="1.3" stroke-linecap="butt"/>
<circle cx="478" cy="760.9" r="2.3" fill="#fff" stroke="#000" stroke-width="1.3"/>
<circle cx="484.1" cy="762.51" r="2.3" fill="#fff" stroke="#000" stroke-width="1.3"/>
<circle cx="487.7" cy="763.59" r="2.3" fill="#fff" stroke="#000" stroke-width="1.3"/>
<circle cx="482" cy="763.3" r="2.3" fill="#fff" stroke="#000" stroke-width="1.3"/>
<circle cx="501" cy="770.96" r="2.3" fill="#d0d0d0" stroke="#000" stroke-width="1.3"/>
<circle cx="510.3" cy="770.42" r="2.3" fill="#d0d0d0" stroke="#000" stroke-width="1.3"/>
<circle cx="506.3" cy="771.5" r="2.3" fill="#d0d0d0" stroke="#000" stroke-width="1.3"/>
<text x="455.3" y="682.6" font-size="10.92" text-anchor="start" fill="#000" font-style="italic">P = 0.0286</text>
<path d="M459.9 690V686.7H506.9V690" fill="none" stroke="#000" stroke-width="1.4"/>
<text x="444.7" y="703.7" font-size="10.92" text-anchor="start" fill="#000" font-style="italic">P = 0.0143</text>
<path d="M459.9 710.4V707H483.6V710.4" fill="none" stroke="#000" stroke-width="1.4"/>
<text x="468.2" y="727" font-size="10.92" text-anchor="start" fill="#000" font-style="italic">P = 0.0286</text>
<path d="M481.4 733.8V730.8H506.9V733.8" fill="none" stroke="#000" stroke-width="1.4"/>
<text x="390.2" y="736.5" font-size="10.92" text-anchor="middle" fill="#000" transform="rotate(-90 390.2 736.5)">Mutational frequency</text>
<text x="407.2" y="733" font-size="10.92" text-anchor="middle" fill="#000" transform="rotate(-90 407.2 733)">(×10<tspan font-size="7.6" dy="-4.3">−4</tspan><tspan dy="4.3">) per bp</tspan></text>
<text x="461.5" y="786.5" font-size="10.92" text-anchor="end" fill="#000" font-style="italic" transform="rotate(-45 461.5 786.5)">wt</text>
<text x="485.6" y="787.3" font-size="10.92" text-anchor="end" fill="#000" font-style="italic" transform="rotate(-45 485.6 787.3)">Maea<tspan font-size="6.6" dy="-4">fl/fl</tspan></text>
<text x="495" y="791.3" font-size="10.92" text-anchor="end" fill="#000" font-style="italic" transform="rotate(-45 495 791.3)">Mb1<tspan font-size="6.6" dy="-4">cre</tspan></text>
<text x="514" y="790.3" font-size="10.92" text-anchor="end" fill="#000" font-style="italic" transform="rotate(-45 514 790.3)">Aicda<tspan font-size="6.6" dy="-4">-/-</tspan></text>
<text x="532.3" y="672" font-size="14.5" text-anchor="start" fill="#000" font-weight="bold">i</text>
<line x1="598.7" y1="745.37" x2="680.5" y2="745.37" stroke="#cdcdcd" stroke-width="1.2" stroke-linecap="butt" stroke-dasharray="2.6 1.55"/>
<line x1="598.7" y1="721.43" x2="680.5" y2="721.43" stroke="#cdcdcd" stroke-width="1.2" stroke-linecap="butt" stroke-dasharray="2.6 1.55"/>
<line x1="598.7" y1="697.5" x2="680.5" y2="697.5" stroke="#cdcdcd" stroke-width="1.2" stroke-linecap="butt" stroke-dasharray="2.6 1.55"/>
<rect x="605.7" y="726.5" width="10.4" height="42.8" fill="#fff" stroke="#000" stroke-width="2"/>
<rect x="623.3" y="736.79" width="10.9" height="32.51" fill="#fff" stroke="#000" stroke-width="2"/>
<rect x="641.9" y="743.02" width="10.4" height="26.28" fill="#bde4e4" stroke="#000" stroke-width="2"/>
<rect x="660" y="722.43" width="10.4" height="46.87" fill="#bde4e4" stroke="#000" stroke-width="2"/>
<line x1="597.2" y1="684.6" x2="597.2" y2="770.5" stroke="#000" stroke-width="2.4" stroke-linecap="butt"/>
<line x1="588.4" y1="769.3" x2="597.2" y2="769.3" stroke="#000" stroke-width="1.8" stroke-linecap="butt"/>
<text x="586.4" y="773.8" font-size="10.71" text-anchor="end" fill="#000">0</text>
<line x1="588.4" y1="745.37" x2="597.2" y2="745.37" stroke="#000" stroke-width="1.8" stroke-linecap="butt"/>
<text x="586.4" y="749.87" font-size="10.71" text-anchor="end" fill="#000">10</text>
<line x1="588.4" y1="721.43" x2="597.2" y2="721.43" stroke="#000" stroke-width="1.8" stroke-linecap="butt"/>
<text x="586.4" y="725.93" font-size="10.71" text-anchor="end" fill="#000">20</text>
<line x1="588.4" y1="697.5" x2="597.2" y2="697.5" stroke="#000" stroke-width="1.8" stroke-linecap="butt"/>
<text x="586.4" y="702" font-size="10.71" text-anchor="end" fill="#000">30</text>
<line x1="596" y1="769.3" x2="680.5" y2="769.3" stroke="#000" stroke-width="2.4" stroke-linecap="butt"/>
<line x1="610.3" y1="769.3" x2="610.3" y2="776.3" stroke="#000" stroke-width="2" stroke-linecap="butt"/>
<line x1="628.9" y1="769.3" x2="628.9" y2="776.3" stroke="#000" stroke-width="2" stroke-linecap="butt"/>
<line x1="647.2" y1="769.3" x2="647.2" y2="776.3" stroke="#000" stroke-width="2" stroke-linecap="butt"/>
<line x1="665.3" y1="769.3" x2="665.3" y2="776.3" stroke="#000" stroke-width="2" stroke-linecap="butt"/>
<line x1="610.9" y1="721.91" x2="610.9" y2="729.09" stroke="#000" stroke-width="1.3" stroke-linecap="butt"/>
<line x1="607.6" y1="721.91" x2="614.2" y2="721.91" stroke="#000" stroke-width="1.3" stroke-linecap="butt"/>
<line x1="610.9" y1="725.5" x2="610.9" y2="729.09" stroke="#000" stroke-width="1.3" stroke-linecap="butt"/>
<line x1="607.6" y1="729.09" x2="614.2" y2="729.09" stroke="#000" stroke-width="1.3" stroke-linecap="butt"/>
<circle cx="608" cy="721.91" r="2.9" fill="#000"/>
<circle cx="611.5" cy="723.11" r="2.9" fill="#000"/>
<circle cx="614.5" cy="725.02" r="2.9" fill="#000"/>
<circle cx="607" cy="724.31" r="2.9" fill="#000"/>
<circle cx="612.5" cy="726.7" r="2.9" fill="#000"/>
<line x1="628.75" y1="729.81" x2="628.75" y2="741.78" stroke="#000" stroke-width="1.3" stroke-linecap="butt"/>
<line x1="625.45" y1="729.81" x2="632.05" y2="729.81" stroke="#000" stroke-width="1.3" stroke-linecap="butt"/>
<line x1="628.75" y1="735.79" x2="628.75" y2="741.78" stroke="#000" stroke-width="1.3" stroke-linecap="butt"/>
<line x1="625.45" y1="741.78" x2="632.05" y2="741.78" stroke="#000" stroke-width="1.3" stroke-linecap="butt"/>
<circle cx="628.4" cy="728.37" r="2.9" fill="#000"/>
<circle cx="623.9" cy="732.92" r="2.9" fill="#000"/>
<circle cx="633" cy="737.47" r="2.9" fill="#000"/>
<circle cx="628.4" cy="739.62" r="2.9" fill="#000"/>
<line x1="647.1" y1="736.27" x2="647.1" y2="748.72" stroke="#000" stroke-width="1.3" stroke-linecap="butt"/>
<line x1="643.8" y1="736.27" x2="650.4" y2="736.27" stroke="#000" stroke-width="1.3" stroke-linecap="butt"/>
<line x1="647.1" y1="742.02" x2="647.1" y2="748.72" stroke="#000" stroke-width="1.3" stroke-linecap="butt"/>
<line x1="643.8" y1="748.72" x2="650.4" y2="748.72" stroke="#000" stroke-width="1.3" stroke-linecap="butt"/>
<rect x="641.7" y="732.71" width="5.2" height="5.2" fill="#fff" stroke="#000" stroke-width="1.2"/>
<rect x="648.5" y="735.11" width="5.2" height="5.2" fill="#fff" stroke="#000" stroke-width="1.2"/>
<rect x="641.7" y="743.96" width="5.2" height="5.2" fill="#fff" stroke="#000" stroke-width="1.2"/>
<rect x="648.5" y="745.4" width="5.2" height="5.2" fill="#fff" stroke="#000" stroke-width="1.2"/>
<line x1="665.2" y1="712.34" x2="665.2" y2="728.61" stroke="#000" stroke-width="1.3" stroke-linecap="butt"/>
<line x1="661.9" y1="712.34" x2="668.5" y2="712.34" stroke="#000" stroke-width="1.3" stroke-linecap="butt"/>
<line x1="665.2" y1="721.43" x2="665.2" y2="728.61" stroke="#000" stroke-width="1.3" stroke-linecap="butt"/>
<line x1="661.9" y1="728.61" x2="668.5" y2="728.61" stroke="#000" stroke-width="1.3" stroke-linecap="butt"/>
<rect x="662.7" y="707.11" width="5.2" height="5.2" fill="#fff" stroke="#000" stroke-width="1.2"/>
<rect x="658.2" y="719.07" width="5.2" height="5.2" fill="#fff" stroke="#000" stroke-width="1.2"/>
<rect x="666.6" y="721.23" width="5.2" height="5.2" fill="#fff" stroke="#000" stroke-width="1.2"/>
<rect x="666.6" y="725.77" width="5.2" height="5.2" fill="#fff" stroke="#000" stroke-width="1.2"/>
<text x="617.8" y="685.5" font-size="10.92" text-anchor="start" fill="#000" font-style="italic">P = 0.0285</text>
<path d="M628.9 693V689.4H665.3V693" fill="none" stroke="#000" stroke-width="1.4"/>
<text x="602.9" y="707" font-size="10.92" text-anchor="start" fill="#000" font-style="italic">P = 0.0028</text>
<path d="M610.3 715V711.6H647.2V715" fill="none" stroke="#000" stroke-width="1.4"/>
<text x="610.3" y="787.4" font-size="10.92" text-anchor="middle" fill="#000">Ts</text>
<text x="628.9" y="787.4" font-size="10.92" text-anchor="middle" fill="#000">Tv</text>
<text x="647.2" y="787.4" font-size="10.92" text-anchor="middle" fill="#000">Ts</text>
<text x="665.3" y="787.4" font-size="10.92" text-anchor="middle" fill="#000">Tv</text>
<line x1="603.5" y1="791.2" x2="634.1" y2="791.2" stroke="#000" stroke-width="1.1" stroke-linecap="butt"/>
<line x1="643.1" y1="791.2" x2="678.2" y2="791.2" stroke="#000" stroke-width="1.1" stroke-linecap="butt"/>
<text x="610.9" y="803.2" font-size="10.92" text-anchor="middle" fill="#000" font-style="italic">wt</text>
<text x="640.9" y="804.2" font-size="10.92" text-anchor="start" fill="#000" font-style="italic">Maea<tspan font-size="7.3" dx="0.6" dy="-4.6">fl/fl</tspan></text>
<text x="640.9" y="816.1" font-size="10.92" text-anchor="start" fill="#000" font-style="italic">Mb1<tspan font-size="7.3" dx="0.6" dy="-4.6">cre</tspan></text>
<text x="552" y="733.1" font-size="10.92" text-anchor="middle" fill="#000" transform="rotate(-90 552 733.1)">% G:C mutations in J<tspan font-size="6.5" dy="2">H</tspan><tspan dy="-2">4 intron</tspan></text>
<text x="569" y="731.3" font-size="10.92" text-anchor="middle" fill="#000" transform="rotate(-90 569 731.3)">(GC B cells from PP)</text>
</svg></body></html>
